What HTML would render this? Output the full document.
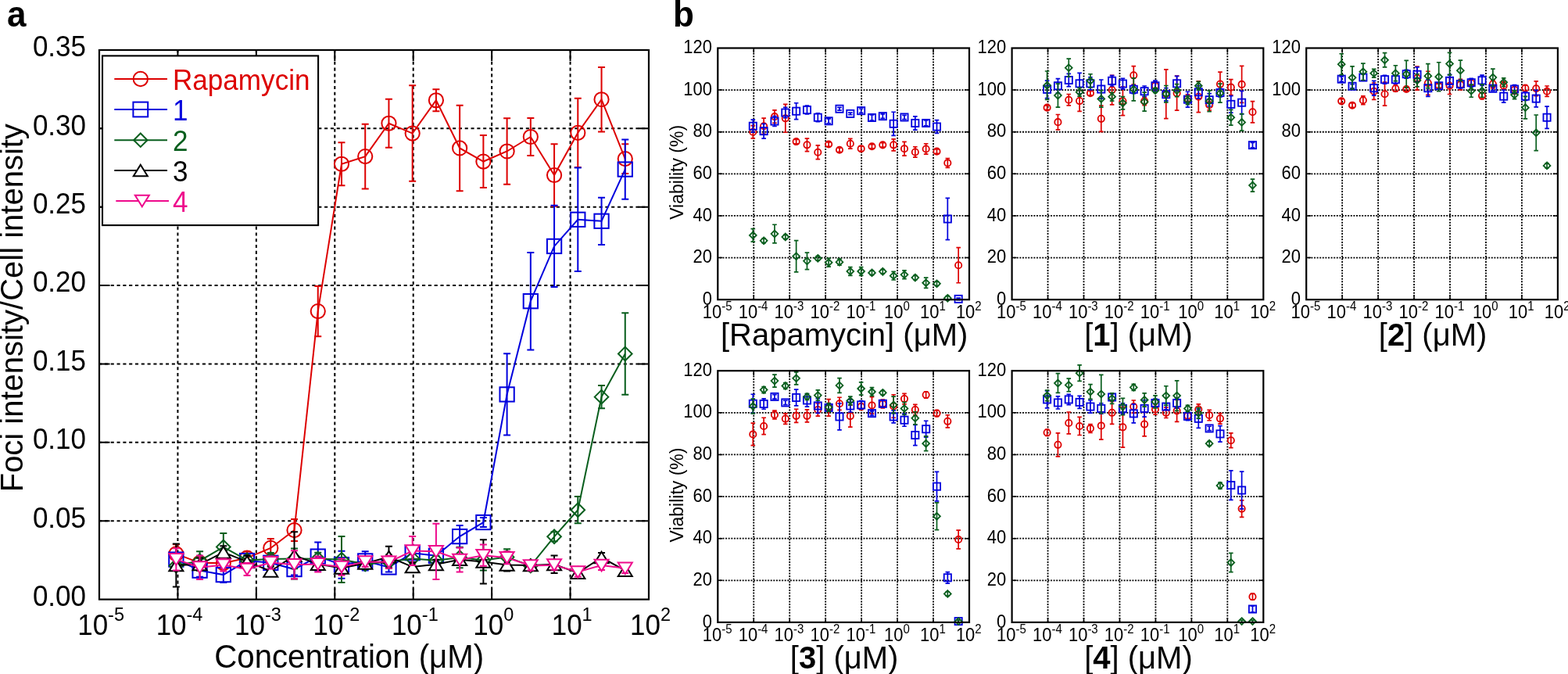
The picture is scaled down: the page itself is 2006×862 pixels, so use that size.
<!DOCTYPE html>
<html><head><meta charset="utf-8"><title>Figure</title>
<style>
html,body{margin:0;padding:0;background:#fff;}
body{width:2006px;height:862px;overflow:hidden;}
svg{display:block;}
text{font-family:'Liberation Sans', Arial, Helvetica, sans-serif;}
</style></head>
<body>
<svg width="2006" height="862" viewBox="0 0 2006 862">
<rect width="2006" height="862" fill="#fff"/>
<path d="M227.43 64V766.6M327.86 64V766.6M428.29 64V766.6M528.71 64V766.6M629.14 64V766.6M729.57 64V766.6M127 666.23H830M127 565.86H830M127 465.49H830M127 365.11H830M127 264.74H830M127 164.37H830" stroke="#000" stroke-width="2" stroke-dasharray="4.1 3.71" stroke-dashoffset="0.9" fill="none"/>
<path d="M227.43 766.6v-14M227.43 64v14M327.86 766.6v-14M327.86 64v14M428.29 766.6v-14M428.29 64v14M528.71 766.6v-14M528.71 64v14M629.14 766.6v-14M629.14 64v14M729.57 766.6v-14M729.57 64v14M127 666.23h13.5M830 666.23h-13.5M127 565.86h13.5M830 565.86h-13.5M127 465.49h13.5M830 465.49h-13.5M127 365.11h13.5M830 365.11h-13.5M127 264.74h13.5M830 264.74h-13.5M127 164.37h13.5M830 164.37h-13.5" stroke="#000" stroke-width="2" fill="none"/>
<path d="M225.36 708.38L255.59 719.83L285.82 720.23L316.06 713.6L346.29 700.96L376.52 678.07L406.75 398.04L436.98 209.74L467.22 200.1L497.45 157.75L527.68 170.59L557.91 128.24L588.14 189.46L618.38 206.53L648.61 193.48L678.84 175.01L709.07 223.99L739.3 169.79L769.54 127.23L799.77 203.11" stroke="#dd0000" stroke-width="2" fill="none"/>
<path d="M225.36 696.34V720.43M220.86 696.34h9M220.86 720.43h9M255.59 711.8V727.86M251.09 711.8h9M251.09 727.86h9M285.82 712.2V728.26M281.32 712.2h9M281.32 728.26h9M316.06 705.57V721.63M311.56 705.57h9M311.56 721.63h9M346.29 688.91V713M341.79 688.91h9M341.79 713h9M376.52 664.02V692.12M372.02 664.02h9M372.02 692.12h9M406.75 365.92V430.15M402.25 365.92h9M402.25 430.15h9M436.98 182.24V237.24M432.48 182.24h9M432.48 237.24h9M467.22 158.75V241.46M462.72 158.75h9M462.72 241.46h9M497.45 126.83V188.66M492.95 126.83h9M492.95 188.66h9M527.68 109.37V231.82M523.18 109.37h9M523.18 231.82h9M557.91 114.19V142.29M553.41 114.19h9M553.41 142.29h9M588.14 134.66V244.27M583.64 134.66h9M583.64 244.27h9M618.38 173V240.05M613.88 173h9M613.88 240.05h9M648.61 151.32V235.64M644.11 151.32h9M644.11 235.64h9M678.84 150.92V199.1M674.34 150.92h9M674.34 199.1h9M709.07 184.24V263.74M704.57 184.24h9M704.57 263.74h9M739.3 125.63V213.95M734.8 125.63h9M734.8 213.95h9M769.54 85.88V168.59M765.04 85.88h9M765.04 168.59h9M799.77 184.24V221.98M795.27 184.24h9M795.27 221.98h9" stroke="#dd0000" stroke-width="2" fill="none"/>
<circle cx="225.36" cy="708.38" r="9.1" fill="none" stroke="#dd0000" stroke-width="2"/>
<circle cx="255.59" cy="719.83" r="9.1" fill="none" stroke="#dd0000" stroke-width="2"/>
<circle cx="285.82" cy="720.23" r="9.1" fill="none" stroke="#dd0000" stroke-width="2"/>
<circle cx="316.06" cy="713.6" r="9.1" fill="none" stroke="#dd0000" stroke-width="2"/>
<circle cx="346.29" cy="700.96" r="9.1" fill="none" stroke="#dd0000" stroke-width="2"/>
<circle cx="376.52" cy="678.07" r="9.1" fill="none" stroke="#dd0000" stroke-width="2"/>
<circle cx="406.75" cy="398.04" r="9.1" fill="none" stroke="#dd0000" stroke-width="2"/>
<circle cx="436.98" cy="209.74" r="9.1" fill="none" stroke="#dd0000" stroke-width="2"/>
<circle cx="467.22" cy="200.1" r="9.1" fill="none" stroke="#dd0000" stroke-width="2"/>
<circle cx="497.45" cy="157.75" r="9.1" fill="none" stroke="#dd0000" stroke-width="2"/>
<circle cx="527.68" cy="170.59" r="9.1" fill="none" stroke="#dd0000" stroke-width="2"/>
<circle cx="557.91" cy="128.24" r="9.1" fill="none" stroke="#dd0000" stroke-width="2"/>
<circle cx="588.14" cy="189.46" r="9.1" fill="none" stroke="#dd0000" stroke-width="2"/>
<circle cx="618.38" cy="206.53" r="9.1" fill="none" stroke="#dd0000" stroke-width="2"/>
<circle cx="648.61" cy="193.48" r="9.1" fill="none" stroke="#dd0000" stroke-width="2"/>
<circle cx="678.84" cy="175.01" r="9.1" fill="none" stroke="#dd0000" stroke-width="2"/>
<circle cx="709.07" cy="223.99" r="9.1" fill="none" stroke="#dd0000" stroke-width="2"/>
<circle cx="739.3" cy="169.79" r="9.1" fill="none" stroke="#dd0000" stroke-width="2"/>
<circle cx="769.54" cy="127.23" r="9.1" fill="none" stroke="#dd0000" stroke-width="2"/>
<circle cx="799.77" cy="203.11" r="9.1" fill="none" stroke="#dd0000" stroke-width="2"/>
<path d="M225.36 715.61L255.59 729.66L285.82 735.08L316.06 717.02L346.29 719.83L376.52 728.06L406.75 711.6L436.98 722.24L467.22 717.42L497.45 725.45L527.68 707.18L557.91 710.79L588.14 686.1L618.38 668.04L648.61 504.43L678.84 385.19L709.07 314.93L739.3 280.8L769.54 282.81L799.77 216.56" stroke="#0000dd" stroke-width="2" fill="none"/>
<path d="M225.36 707.58V723.64M220.86 707.58h9M220.86 723.64h9M255.59 721.63V737.69M251.09 721.63h9M251.09 737.69h9M285.82 725.05V745.12M281.32 725.05h9M281.32 745.12h9M316.06 710.99V723.04M311.56 710.99h9M311.56 723.04h9M346.29 711.8V727.86M341.79 711.8h9M341.79 727.86h9M376.52 720.63V735.48M372.02 720.63h9M372.02 735.48h9M406.75 693.53V729.66M402.25 693.53h9M402.25 729.66h9M436.98 704.77V739.7M432.48 704.77h9M432.48 739.7h9M467.22 705.37V729.46M462.72 705.37h9M462.72 729.46h9M497.45 719.43V731.47M492.95 719.43h9M492.95 731.47h9M527.68 699.15V715.21M523.18 699.15h9M523.18 715.21h9M557.91 702.76V718.82M553.41 702.76h9M553.41 718.82h9M588.14 672.05V700.15M583.64 672.05h9M583.64 700.15h9M618.38 662.01V674.06M613.88 662.01h9M613.88 674.06h9M648.61 452.24V556.62M644.11 452.24h9M644.11 556.62h9M678.84 322.96V447.42M674.34 322.96h9M674.34 447.42h9M709.07 262.74V367.12M704.57 262.74h9M704.57 367.12h9M739.3 214.56V347.05M734.8 214.56h9M734.8 347.05h9M769.54 252.7V312.92M765.04 252.7h9M765.04 312.92h9M799.77 178.42V254.71M795.27 178.42h9M795.27 254.71h9" stroke="#0000dd" stroke-width="2" fill="none"/>
<rect x="216.21" y="706.46" width="18.3" height="18.3" fill="none" stroke="#0000dd" stroke-width="2"/>
<rect x="246.44" y="720.51" width="18.3" height="18.3" fill="none" stroke="#0000dd" stroke-width="2"/>
<rect x="276.67" y="725.93" width="18.3" height="18.3" fill="none" stroke="#0000dd" stroke-width="2"/>
<rect x="306.91" y="707.87" width="18.3" height="18.3" fill="none" stroke="#0000dd" stroke-width="2"/>
<rect x="337.14" y="710.68" width="18.3" height="18.3" fill="none" stroke="#0000dd" stroke-width="2"/>
<rect x="367.37" y="718.91" width="18.3" height="18.3" fill="none" stroke="#0000dd" stroke-width="2"/>
<rect x="397.6" y="702.45" width="18.3" height="18.3" fill="none" stroke="#0000dd" stroke-width="2"/>
<rect x="427.83" y="713.09" width="18.3" height="18.3" fill="none" stroke="#0000dd" stroke-width="2"/>
<rect x="458.07" y="708.27" width="18.3" height="18.3" fill="none" stroke="#0000dd" stroke-width="2"/>
<rect x="488.3" y="716.3" width="18.3" height="18.3" fill="none" stroke="#0000dd" stroke-width="2"/>
<rect x="518.53" y="698.03" width="18.3" height="18.3" fill="none" stroke="#0000dd" stroke-width="2"/>
<rect x="548.76" y="701.64" width="18.3" height="18.3" fill="none" stroke="#0000dd" stroke-width="2"/>
<rect x="578.99" y="676.95" width="18.3" height="18.3" fill="none" stroke="#0000dd" stroke-width="2"/>
<rect x="609.23" y="658.89" width="18.3" height="18.3" fill="none" stroke="#0000dd" stroke-width="2"/>
<rect x="639.46" y="495.28" width="18.3" height="18.3" fill="none" stroke="#0000dd" stroke-width="2"/>
<rect x="669.69" y="376.04" width="18.3" height="18.3" fill="none" stroke="#0000dd" stroke-width="2"/>
<rect x="699.92" y="305.78" width="18.3" height="18.3" fill="none" stroke="#0000dd" stroke-width="2"/>
<rect x="730.15" y="271.65" width="18.3" height="18.3" fill="none" stroke="#0000dd" stroke-width="2"/>
<rect x="760.39" y="273.66" width="18.3" height="18.3" fill="none" stroke="#0000dd" stroke-width="2"/>
<rect x="790.62" y="207.41" width="18.3" height="18.3" fill="none" stroke="#0000dd" stroke-width="2"/>
<path d="M225.36 723.44L255.59 717.22L285.82 699.55L316.06 716.41L346.29 715.01L376.52 714.41L406.75 714.81L436.98 715.61L467.22 721.43L497.45 718.22L527.68 714.41L557.91 716.82L588.14 713L618.38 716.41L648.61 712.4L678.84 723.64L709.07 686.3L739.3 652.18L769.54 507.64L799.77 452.44" stroke="#085e1d" stroke-width="2" fill="none"/>
<path d="M225.36 717.42V729.46M220.86 717.42h9M220.86 729.46h9M255.59 705.17V729.26M251.09 705.17h9M251.09 729.26h9M285.82 682.09V717.02M281.32 682.09h9M281.32 717.02h9M316.06 710.39V722.44M311.56 710.39h9M311.56 722.44h9M346.29 706.98V723.04M341.79 706.98h9M341.79 723.04h9M376.52 701.56V727.25M372.02 701.56h9M372.02 727.25h9M406.75 706.78V722.84M402.25 706.78h9M402.25 722.84h9M436.98 686.1V745.12M432.48 686.1h9M432.48 745.12h9M467.22 715.41V727.46M462.72 715.41h9M462.72 727.46h9M497.45 709.39V727.05M492.95 709.39h9M492.95 727.05h9M527.68 708.38V720.43M523.18 708.38h9M523.18 720.43h9M557.91 710.79V722.84M553.41 710.79h9M553.41 722.84h9M588.14 699.75V726.25M583.64 699.75h9M583.64 726.25h9M618.38 703.37V729.46M613.88 703.37h9M613.88 729.46h9M648.61 702.36V722.44M644.11 702.36h9M644.11 722.44h9M678.84 717.62V729.66M674.34 717.62h9M674.34 729.66h9M709.07 680.28V692.33M704.57 680.28h9M704.57 692.33h9M739.3 635.11V669.24M734.8 635.11h9M734.8 669.24h9M769.54 492.99V522.3M765.04 492.99h9M765.04 522.3h9M799.77 400.24V504.63M795.27 400.24h9M795.27 504.63h9" stroke="#085e1d" stroke-width="2" fill="none"/>
<path d="M225.36 714.64L234.16 723.44L225.36 732.24L216.56 723.44Z" fill="none" stroke="#085e1d" stroke-width="2" stroke-linejoin="miter"/>
<path d="M255.59 708.42L264.39 717.22L255.59 726.02L246.79 717.22Z" fill="none" stroke="#085e1d" stroke-width="2" stroke-linejoin="miter"/>
<path d="M285.82 690.75L294.62 699.55L285.82 708.35L277.02 699.55Z" fill="none" stroke="#085e1d" stroke-width="2" stroke-linejoin="miter"/>
<path d="M316.06 707.61L324.86 716.41L316.06 725.21L307.26 716.41Z" fill="none" stroke="#085e1d" stroke-width="2" stroke-linejoin="miter"/>
<path d="M346.29 706.21L355.09 715.01L346.29 723.81L337.49 715.01Z" fill="none" stroke="#085e1d" stroke-width="2" stroke-linejoin="miter"/>
<path d="M376.52 705.61L385.32 714.41L376.52 723.21L367.72 714.41Z" fill="none" stroke="#085e1d" stroke-width="2" stroke-linejoin="miter"/>
<path d="M406.75 706.01L415.55 714.81L406.75 723.61L397.95 714.81Z" fill="none" stroke="#085e1d" stroke-width="2" stroke-linejoin="miter"/>
<path d="M436.98 706.81L445.78 715.61L436.98 724.41L428.18 715.61Z" fill="none" stroke="#085e1d" stroke-width="2" stroke-linejoin="miter"/>
<path d="M467.22 712.63L476.02 721.43L467.22 730.23L458.42 721.43Z" fill="none" stroke="#085e1d" stroke-width="2" stroke-linejoin="miter"/>
<path d="M497.45 709.42L506.25 718.22L497.45 727.02L488.65 718.22Z" fill="none" stroke="#085e1d" stroke-width="2" stroke-linejoin="miter"/>
<path d="M527.68 705.61L536.48 714.41L527.68 723.21L518.88 714.41Z" fill="none" stroke="#085e1d" stroke-width="2" stroke-linejoin="miter"/>
<path d="M557.91 708.02L566.71 716.82L557.91 725.62L549.11 716.82Z" fill="none" stroke="#085e1d" stroke-width="2" stroke-linejoin="miter"/>
<path d="M588.14 704.2L596.94 713L588.14 721.8L579.34 713Z" fill="none" stroke="#085e1d" stroke-width="2" stroke-linejoin="miter"/>
<path d="M618.38 707.61L627.18 716.41L618.38 725.21L609.58 716.41Z" fill="none" stroke="#085e1d" stroke-width="2" stroke-linejoin="miter"/>
<path d="M648.61 703.6L657.41 712.4L648.61 721.2L639.81 712.4Z" fill="none" stroke="#085e1d" stroke-width="2" stroke-linejoin="miter"/>
<path d="M678.84 714.84L687.64 723.64L678.84 732.44L670.04 723.64Z" fill="none" stroke="#085e1d" stroke-width="2" stroke-linejoin="miter"/>
<path d="M709.07 677.5L717.87 686.3L709.07 695.1L700.27 686.3Z" fill="none" stroke="#085e1d" stroke-width="2" stroke-linejoin="miter"/>
<path d="M739.3 643.38L748.1 652.18L739.3 660.98L730.5 652.18Z" fill="none" stroke="#085e1d" stroke-width="2" stroke-linejoin="miter"/>
<path d="M769.54 498.84L778.34 507.64L769.54 516.44L760.74 507.64Z" fill="none" stroke="#085e1d" stroke-width="2" stroke-linejoin="miter"/>
<path d="M799.77 443.64L808.57 452.44L799.77 461.24L790.97 452.44Z" fill="none" stroke="#085e1d" stroke-width="2" stroke-linejoin="miter"/>
<path d="M225.36 723.04L255.59 721.83L285.82 706.38L316.06 718.42L346.29 730.47L376.52 710.39L406.75 721.63L436.98 726.45L467.22 720.43L497.45 712.2L527.68 725.05L557.91 721.83L588.14 715.81L618.38 718.42L648.61 722.44L678.84 723.04L709.07 721.83L739.3 732.67L769.54 713L799.77 729.66" stroke="#000000" stroke-width="2" fill="none"/>
<path d="M225.36 695.54V750.54M220.86 695.54h9M220.86 750.54h9M255.59 713.8V729.86M251.09 713.8h9M251.09 729.86h9M285.82 698.35V714.41M281.32 698.35h9M281.32 714.41h9M316.06 710.39V726.45M311.56 710.39h9M311.56 726.45h9M346.29 724.44V736.49M341.79 724.44h9M341.79 736.49h9M376.52 680.28V740.5M372.02 680.28h9M372.02 740.5h9M406.75 715.61V727.66M402.25 715.61h9M402.25 727.66h9M436.98 718.42V734.48M432.48 718.42h9M432.48 734.48h9M467.22 714.41V726.45M462.72 714.41h9M462.72 726.45h9M497.45 698.75V725.65M492.95 698.75h9M492.95 725.65h9M527.68 719.02V731.07M523.18 719.02h9M523.18 731.07h9M557.91 715.81V727.86M553.41 715.81h9M553.41 727.86h9M588.14 709.79V721.83M583.64 709.79h9M583.64 721.83h9M618.38 690.32V746.53M613.88 690.32h9M613.88 746.53h9M648.61 714.41V730.47M644.11 714.41h9M644.11 730.47h9M678.84 717.02V729.06M674.34 717.02h9M674.34 729.06h9M709.07 710.59V733.08M704.57 710.59h9M704.57 733.08h9M739.3 726.65V738.7M734.8 726.65h9M734.8 738.7h9M769.54 706.98V719.02M765.04 706.98h9M765.04 719.02h9M799.77 723.64V735.69M795.27 723.64h9M795.27 735.69h9" stroke="#000000" stroke-width="2" fill="none"/>
<path d="M225.36 715.73L234.39 730.35L216.33 730.35Z" fill="white" stroke="#000000" stroke-width="2" stroke-linejoin="miter"/>
<path d="M255.59 714.52L264.62 729.14L246.56 729.14Z" fill="white" stroke="#000000" stroke-width="2" stroke-linejoin="miter"/>
<path d="M285.82 699.07L294.85 713.69L276.79 713.69Z" fill="white" stroke="#000000" stroke-width="2" stroke-linejoin="miter"/>
<path d="M316.06 711.11L325.09 725.73L307.03 725.73Z" fill="white" stroke="#000000" stroke-width="2" stroke-linejoin="miter"/>
<path d="M346.29 723.16L355.32 737.78L337.26 737.78Z" fill="white" stroke="#000000" stroke-width="2" stroke-linejoin="miter"/>
<path d="M376.52 703.08L385.55 717.7L367.49 717.7Z" fill="white" stroke="#000000" stroke-width="2" stroke-linejoin="miter"/>
<path d="M406.75 714.32L415.78 728.94L397.72 728.94Z" fill="white" stroke="#000000" stroke-width="2" stroke-linejoin="miter"/>
<path d="M436.98 719.14L446.01 733.76L427.95 733.76Z" fill="white" stroke="#000000" stroke-width="2" stroke-linejoin="miter"/>
<path d="M467.22 713.12L476.25 727.74L458.19 727.74Z" fill="white" stroke="#000000" stroke-width="2" stroke-linejoin="miter"/>
<path d="M497.45 704.89L506.48 719.51L488.42 719.51Z" fill="white" stroke="#000000" stroke-width="2" stroke-linejoin="miter"/>
<path d="M527.68 717.74L536.71 732.36L518.65 732.36Z" fill="white" stroke="#000000" stroke-width="2" stroke-linejoin="miter"/>
<path d="M557.91 714.52L566.94 729.14L548.88 729.14Z" fill="white" stroke="#000000" stroke-width="2" stroke-linejoin="miter"/>
<path d="M588.14 708.5L597.17 723.12L579.11 723.12Z" fill="white" stroke="#000000" stroke-width="2" stroke-linejoin="miter"/>
<path d="M618.38 711.11L627.41 725.73L609.35 725.73Z" fill="white" stroke="#000000" stroke-width="2" stroke-linejoin="miter"/>
<path d="M648.61 715.13L657.64 729.75L639.58 729.75Z" fill="white" stroke="#000000" stroke-width="2" stroke-linejoin="miter"/>
<path d="M678.84 715.73L687.87 730.35L669.81 730.35Z" fill="white" stroke="#000000" stroke-width="2" stroke-linejoin="miter"/>
<path d="M709.07 714.52L718.1 729.14L700.04 729.14Z" fill="white" stroke="#000000" stroke-width="2" stroke-linejoin="miter"/>
<path d="M739.3 725.36L748.33 739.98L730.27 739.98Z" fill="white" stroke="#000000" stroke-width="2" stroke-linejoin="miter"/>
<path d="M769.54 705.69L778.57 720.31L760.51 720.31Z" fill="white" stroke="#000000" stroke-width="2" stroke-linejoin="miter"/>
<path d="M799.77 722.35L808.8 736.97L790.74 736.97Z" fill="white" stroke="#000000" stroke-width="2" stroke-linejoin="miter"/>
<path d="M225.36 715.41L255.59 725.65L285.82 722.44L316.06 728.06L346.29 719.43L376.52 722.24L406.75 721.43L436.98 725.05L467.22 718.62L497.45 718.82L527.68 704.57L557.91 705.37L588.14 716.01L618.38 710.19L648.61 713.2L678.84 723.44L709.07 722.64L739.3 731.47L769.54 723.04L799.77 726.85" stroke="#ee0a8c" stroke-width="2" fill="none"/>
<path d="M225.36 701.36V729.46M220.86 701.36h9M220.86 729.46h9M255.59 710.39V740.9M251.09 710.39h9M251.09 740.9h9M285.82 714.41V730.47M281.32 714.41h9M281.32 730.47h9M316.06 720.03V736.09M311.56 720.03h9M311.56 736.09h9M346.29 711.4V727.46M341.79 711.4h9M341.79 727.46h9M376.52 704.17V740.3M372.02 704.17h9M372.02 740.3h9M406.75 711.4V731.47M402.25 711.4h9M402.25 731.47h9M436.98 714.41V735.69M432.48 714.41h9M432.48 735.69h9M467.22 712.6V724.64M462.72 712.6h9M462.72 724.64h9M497.45 710.79V726.85M492.95 710.79h9M492.95 726.85h9M527.68 686.1V723.04M523.18 686.1h9M523.18 723.04h9M557.91 669.64V741.11M553.41 669.64h9M553.41 741.11h9M588.14 700.56V731.47M583.64 700.56h9M583.64 731.47h9M618.38 696.54V723.84M613.88 696.54h9M613.88 723.84h9M648.61 705.17V721.23M644.11 705.17h9M644.11 721.23h9M678.84 717.42V729.46M674.34 717.42h9M674.34 729.46h9M709.07 716.62V728.66M704.57 716.62h9M704.57 728.66h9M739.3 725.45V737.49M734.8 725.45h9M734.8 737.49h9M769.54 717.02V729.06M765.04 717.02h9M765.04 729.06h9M799.77 720.83V732.88M795.27 720.83h9M795.27 732.88h9" stroke="#ee0a8c" stroke-width="2" fill="none"/>
<path d="M225.36 722.72L234.39 708.1L216.33 708.1Z" fill="white" stroke="#ee0a8c" stroke-width="2" stroke-linejoin="miter"/>
<path d="M255.59 732.96L264.62 718.34L246.56 718.34Z" fill="white" stroke="#ee0a8c" stroke-width="2" stroke-linejoin="miter"/>
<path d="M285.82 729.75L294.85 715.13L276.79 715.13Z" fill="white" stroke="#ee0a8c" stroke-width="2" stroke-linejoin="miter"/>
<path d="M316.06 735.37L325.09 720.75L307.03 720.75Z" fill="white" stroke="#ee0a8c" stroke-width="2" stroke-linejoin="miter"/>
<path d="M346.29 726.74L355.32 712.12L337.26 712.12Z" fill="white" stroke="#ee0a8c" stroke-width="2" stroke-linejoin="miter"/>
<path d="M376.52 729.55L385.55 714.93L367.49 714.93Z" fill="white" stroke="#ee0a8c" stroke-width="2" stroke-linejoin="miter"/>
<path d="M406.75 728.74L415.78 714.12L397.72 714.12Z" fill="white" stroke="#ee0a8c" stroke-width="2" stroke-linejoin="miter"/>
<path d="M436.98 732.36L446.01 717.74L427.95 717.74Z" fill="white" stroke="#ee0a8c" stroke-width="2" stroke-linejoin="miter"/>
<path d="M467.22 725.93L476.25 711.31L458.19 711.31Z" fill="white" stroke="#ee0a8c" stroke-width="2" stroke-linejoin="miter"/>
<path d="M497.45 726.13L506.48 711.51L488.42 711.51Z" fill="white" stroke="#ee0a8c" stroke-width="2" stroke-linejoin="miter"/>
<path d="M527.68 711.88L536.71 697.26L518.65 697.26Z" fill="white" stroke="#ee0a8c" stroke-width="2" stroke-linejoin="miter"/>
<path d="M557.91 712.68L566.94 698.06L548.88 698.06Z" fill="white" stroke="#ee0a8c" stroke-width="2" stroke-linejoin="miter"/>
<path d="M588.14 723.32L597.17 708.7L579.11 708.7Z" fill="white" stroke="#ee0a8c" stroke-width="2" stroke-linejoin="miter"/>
<path d="M618.38 717.5L627.41 702.88L609.35 702.88Z" fill="white" stroke="#ee0a8c" stroke-width="2" stroke-linejoin="miter"/>
<path d="M648.61 720.51L657.64 705.89L639.58 705.89Z" fill="white" stroke="#ee0a8c" stroke-width="2" stroke-linejoin="miter"/>
<path d="M678.84 730.75L687.87 716.13L669.81 716.13Z" fill="white" stroke="#ee0a8c" stroke-width="2" stroke-linejoin="miter"/>
<path d="M709.07 729.95L718.1 715.33L700.04 715.33Z" fill="white" stroke="#ee0a8c" stroke-width="2" stroke-linejoin="miter"/>
<path d="M739.3 738.78L748.33 724.16L730.27 724.16Z" fill="white" stroke="#ee0a8c" stroke-width="2" stroke-linejoin="miter"/>
<path d="M769.54 730.35L778.57 715.73L760.51 715.73Z" fill="white" stroke="#ee0a8c" stroke-width="2" stroke-linejoin="miter"/>
<path d="M799.77 734.16L808.8 719.54L790.74 719.54Z" fill="white" stroke="#ee0a8c" stroke-width="2" stroke-linejoin="miter"/>
<rect x="127.0" y="64.0" width="703" height="702.6" fill="none" stroke="#000" stroke-width="2.2"/>
<rect x="131" y="71.4" width="276.1" height="216.7" fill="#fff" stroke="#000" stroke-width="2.1"/>
<path d="M146.3 101.0H214" stroke="#dd0000" stroke-width="2"/>
<circle cx="179.8" cy="101" r="9.2" fill="none" stroke="#dd0000" stroke-width="2"/>
<text transform="translate(221 114.7) scale(1 1.05)" font-size="35.1" fill="#dd0000">Rapamycin</text>
<path d="M146.3 140.0H214" stroke="#0000dd" stroke-width="2"/>
<rect x="170.4" y="130.6" width="18.8" height="18.8" fill="none" stroke="#0000dd" stroke-width="2"/>
<text transform="translate(221 153.7) scale(1 1.05)" font-size="35.1" fill="#0000dd">1</text>
<path d="M146.3 179.2H214" stroke="#085e1d" stroke-width="2"/>
<path d="M179.8 170.5L188.5 179.2L179.8 187.9L171.1 179.2Z" fill="none" stroke="#085e1d" stroke-width="2" stroke-linejoin="miter"/>
<text transform="translate(221 192.9) scale(1 1.05)" font-size="35.1" fill="#085e1d">2</text>
<path d="M146.3 218.0H214" stroke="#000000" stroke-width="2"/>
<path d="M179.8 210.69L188.83 225.31L170.77 225.31Z" fill="white" stroke="#000000" stroke-width="2" stroke-linejoin="miter"/>
<text transform="translate(221 231.7) scale(1 1.05)" font-size="35.1" fill="#000000">3</text>
<path d="M148.3 257.0H216" stroke="#ee0a8c" stroke-width="2"/>
<path d="M181.8 264.31L190.83 249.69L172.77 249.69Z" fill="white" stroke="#ee0a8c" stroke-width="2" stroke-linejoin="miter"/>
<text transform="translate(221 270.7) scale(1 1.05)" font-size="35.1" fill="#ee0a8c">4</text>
<text transform="translate(110 774.9) scale(1 1.05)" font-size="35" text-anchor="end">0.00</text>
<text transform="translate(110 674.53) scale(1 1.05)" font-size="35" text-anchor="end">0.05</text>
<text transform="translate(110 574.16) scale(1 1.05)" font-size="35" text-anchor="end">0.10</text>
<text transform="translate(110 473.79) scale(1 1.05)" font-size="35" text-anchor="end">0.15</text>
<text transform="translate(110 373.41) scale(1 1.05)" font-size="35" text-anchor="end">0.20</text>
<text transform="translate(110 273.04) scale(1 1.05)" font-size="35" text-anchor="end">0.25</text>
<text transform="translate(110 172.67) scale(1 1.05)" font-size="35" text-anchor="end">0.30</text>
<text transform="translate(110 72.3) scale(1 1.05)" font-size="35" text-anchor="end">0.35</text>
<text transform="translate(129.1 812.1) scale(1 1.05)" font-size="35" text-anchor="middle">10<tspan font-size="23.5" dy="-16.8">-5</tspan></text>
<text transform="translate(229.53 812.1) scale(1 1.05)" font-size="35" text-anchor="middle">10<tspan font-size="23.5" dy="-16.8">-4</tspan></text>
<text transform="translate(329.96 812.1) scale(1 1.05)" font-size="35" text-anchor="middle">10<tspan font-size="23.5" dy="-16.8">-3</tspan></text>
<text transform="translate(430.39 812.1) scale(1 1.05)" font-size="35" text-anchor="middle">10<tspan font-size="23.5" dy="-16.8">-2</tspan></text>
<text transform="translate(530.81 812.1) scale(1 1.05)" font-size="35" text-anchor="middle">10<tspan font-size="23.5" dy="-16.8">-1</tspan></text>
<text transform="translate(631.24 812.1) scale(1 1.05)" font-size="35" text-anchor="middle">10<tspan font-size="23.5" dy="-16.8">0</tspan></text>
<text transform="translate(731.67 812.1) scale(1 1.05)" font-size="35" text-anchor="middle">10<tspan font-size="23.5" dy="-16.8">1</tspan></text>
<text transform="translate(832.1 812.1) scale(1 1.05)" font-size="35" text-anchor="middle">10<tspan font-size="23.5" dy="-16.8">2</tspan></text>
<text transform="translate(274.3 853.7) scale(1 1.05)" font-size="40.2">Concentration (μM)</text>
<text transform="translate(29.4 629.3) rotate(-90) scale(1 1.03)" font-size="40">Foci intensity/Cell intensity</text>
<text transform="translate(9 34.3) scale(1 1.06)" font-size="44" font-weight="bold">a</text>
<path d="M964.26 61.5V383.2M1010.21 61.5V383.2M1056.17 61.5V383.2M1102.13 61.5V383.2M1148.09 61.5V383.2M1194.04 61.5V383.2M918.3 329.58H1240M918.3 275.97H1240M918.3 222.35H1240M918.3 168.73H1240M918.3 115.12H1240" stroke="#000" stroke-width="1.8" stroke-dasharray="2 1.6" stroke-dashoffset="1" fill="none"/>
<path d="M964.26 383.2v-6M964.26 61.5v6M1010.21 383.2v-6M1010.21 61.5v6M1056.17 383.2v-6M1056.17 61.5v6M1102.13 383.2v-6M1102.13 61.5v6M1148.09 383.2v-6M1148.09 61.5v6M1194.04 383.2v-6M1194.04 61.5v6M918.3 329.58h6M1240 329.58h-6M918.3 275.97h6M1240 275.97h-6M918.3 222.35h6M1240 222.35h-6M918.3 168.73h6M1240 168.73h-6M918.3 115.12h6M1240 115.12h-6" stroke="#000" stroke-width="1.5" fill="none"/>
<path d="M963.31 160.69V176.78M960.51 160.69h5.6M960.51 176.78h5.6M977.14 151.04V171.41M974.34 151.04h5.6M974.34 171.41h5.6M990.98 140.85V157.47M988.18 140.85h5.6M988.18 157.47h5.6M1004.81 133.35V169.27M1002.01 133.35h5.6M1002.01 169.27h5.6M1018.65 178.38V183.75M1015.85 178.38h5.6M1015.85 183.75h5.6M1032.48 177.04V193.67M1029.68 177.04h5.6M1029.68 193.67h5.6M1046.32 185.89V203.58M1043.52 185.89h5.6M1043.52 203.58h5.6M1060.15 181.87V187.23M1057.35 181.87h5.6M1057.35 187.23h5.6M1073.99 189.11V194.47M1071.19 189.11h5.6M1071.19 194.47h5.6M1087.82 177.31V190.18M1085.02 177.31h5.6M1085.02 190.18h5.6M1101.66 186.96V193.4M1098.86 186.96h5.6M1098.86 193.4h5.6M1115.49 184.55V189.91M1112.69 184.55h5.6M1112.69 189.91h5.6M1129.32 182.67V188.04M1126.52 182.67h5.6M1126.52 188.04h5.6M1143.16 177.85V192.86M1140.36 177.85h5.6M1140.36 192.86h5.6M1156.99 181.33V199.03M1154.19 181.33h5.6M1154.19 199.03h5.6M1170.83 187.77V201.17M1168.03 187.77h5.6M1168.03 201.17h5.6M1184.66 183.75V197.15M1181.86 183.75h5.6M1181.86 197.15h5.6M1198.5 190.98V196.35M1195.7 190.98h5.6M1195.7 196.35h5.6M1212.33 202.51V214.31M1209.53 202.51h5.6M1209.53 214.31h5.6M1226.17 316.72V361.75M1223.37 316.72h5.6M1223.37 361.75h5.6" stroke="#dd0000" stroke-width="1.7" fill="none"/>
<circle cx="963.31" cy="168.73" r="4.15" fill="none" stroke="#dd0000" stroke-width="1.8"/>
<circle cx="977.14" cy="161.23" r="4.15" fill="none" stroke="#dd0000" stroke-width="1.8"/>
<circle cx="990.98" cy="149.16" r="4.15" fill="none" stroke="#dd0000" stroke-width="1.8"/>
<circle cx="1004.81" cy="151.31" r="4.15" fill="none" stroke="#dd0000" stroke-width="1.8"/>
<circle cx="1018.65" cy="181.07" r="4.15" fill="none" stroke="#dd0000" stroke-width="1.8"/>
<circle cx="1032.48" cy="185.35" r="4.15" fill="none" stroke="#dd0000" stroke-width="1.8"/>
<circle cx="1046.32" cy="194.74" r="4.15" fill="none" stroke="#dd0000" stroke-width="1.8"/>
<circle cx="1060.15" cy="184.55" r="4.15" fill="none" stroke="#dd0000" stroke-width="1.8"/>
<circle cx="1073.99" cy="191.79" r="4.15" fill="none" stroke="#dd0000" stroke-width="1.8"/>
<circle cx="1087.82" cy="183.75" r="4.15" fill="none" stroke="#dd0000" stroke-width="1.8"/>
<circle cx="1101.66" cy="190.18" r="4.15" fill="none" stroke="#dd0000" stroke-width="1.8"/>
<circle cx="1115.49" cy="187.23" r="4.15" fill="none" stroke="#dd0000" stroke-width="1.8"/>
<circle cx="1129.32" cy="185.35" r="4.15" fill="none" stroke="#dd0000" stroke-width="1.8"/>
<circle cx="1143.16" cy="185.35" r="4.15" fill="none" stroke="#dd0000" stroke-width="1.8"/>
<circle cx="1156.99" cy="190.18" r="4.15" fill="none" stroke="#dd0000" stroke-width="1.8"/>
<circle cx="1170.83" cy="194.47" r="4.15" fill="none" stroke="#dd0000" stroke-width="1.8"/>
<circle cx="1184.66" cy="190.45" r="4.15" fill="none" stroke="#dd0000" stroke-width="1.8"/>
<circle cx="1198.5" cy="193.67" r="4.15" fill="none" stroke="#dd0000" stroke-width="1.8"/>
<circle cx="1212.33" cy="208.41" r="4.15" fill="none" stroke="#dd0000" stroke-width="1.8"/>
<circle cx="1226.17" cy="339.23" r="4.15" fill="none" stroke="#dd0000" stroke-width="1.8"/>
<path d="M963.31 153.18V169.27M960.51 153.18h5.6M960.51 169.27h5.6M977.14 158.28V177.04M974.34 158.28h5.6M974.34 177.04h5.6M990.98 148.63V161.5M988.18 148.63h5.6M988.18 161.5h5.6M1004.81 137.37V150.77M1002.01 137.37h5.6M1002.01 150.77h5.6M1018.65 131.74V152.65M1015.85 131.74h5.6M1015.85 152.65h5.6M1032.48 135.22V145.95M1029.68 135.22h5.6M1029.68 145.95h5.6M1046.32 144.87V155.6M1043.52 144.87h5.6M1043.52 155.6h5.6M1060.15 151.84V157.74M1057.35 151.84h5.6M1057.35 157.74h5.6M1073.99 137.37V141.12M1071.19 137.37h5.6M1071.19 141.12h5.6M1087.82 144.07V146.75M1085.02 144.07h5.6M1085.02 146.75h5.6M1101.66 138.98V144.34M1098.86 138.98h5.6M1098.86 144.34h5.6M1115.49 147.02V153.99M1112.69 147.02h5.6M1112.69 153.99h5.6M1129.32 145.95V151.31M1126.52 145.95h5.6M1126.52 151.31h5.6M1143.16 143.27V173.29M1140.36 143.27h5.6M1140.36 173.29h5.6M1156.99 147.29V152.65M1154.19 147.29h5.6M1154.19 152.65h5.6M1170.83 148.9V166.05M1168.03 148.9h5.6M1168.03 166.05h5.6M1184.66 153.99V160.96M1181.86 153.99h5.6M1181.86 160.96h5.6M1198.5 153.72V170.34M1195.7 153.72h5.6M1195.7 170.34h5.6M1212.33 253.45V306.53M1209.53 253.45h5.6M1209.53 306.53h5.6M1226.17 381.06V383.74M1223.37 381.06h5.6M1223.37 383.74h5.6" stroke="#0000dd" stroke-width="1.7" fill="none"/>
<rect x="958.71" y="156.63" width="9.2" height="9.2" fill="none" stroke="#0000dd" stroke-width="1.8"/>
<rect x="972.54" y="163.06" width="9.2" height="9.2" fill="none" stroke="#0000dd" stroke-width="1.8"/>
<rect x="986.38" y="150.46" width="9.2" height="9.2" fill="none" stroke="#0000dd" stroke-width="1.8"/>
<rect x="1000.21" y="139.47" width="9.2" height="9.2" fill="none" stroke="#0000dd" stroke-width="1.8"/>
<rect x="1014.05" y="137.59" width="9.2" height="9.2" fill="none" stroke="#0000dd" stroke-width="1.8"/>
<rect x="1027.88" y="135.98" width="9.2" height="9.2" fill="none" stroke="#0000dd" stroke-width="1.8"/>
<rect x="1041.72" y="145.64" width="9.2" height="9.2" fill="none" stroke="#0000dd" stroke-width="1.8"/>
<rect x="1055.55" y="150.19" width="9.2" height="9.2" fill="none" stroke="#0000dd" stroke-width="1.8"/>
<rect x="1069.39" y="134.64" width="9.2" height="9.2" fill="none" stroke="#0000dd" stroke-width="1.8"/>
<rect x="1083.22" y="140.81" width="9.2" height="9.2" fill="none" stroke="#0000dd" stroke-width="1.8"/>
<rect x="1097.06" y="137.06" width="9.2" height="9.2" fill="none" stroke="#0000dd" stroke-width="1.8"/>
<rect x="1110.89" y="145.9" width="9.2" height="9.2" fill="none" stroke="#0000dd" stroke-width="1.8"/>
<rect x="1124.72" y="144.03" width="9.2" height="9.2" fill="none" stroke="#0000dd" stroke-width="1.8"/>
<rect x="1138.56" y="153.68" width="9.2" height="9.2" fill="none" stroke="#0000dd" stroke-width="1.8"/>
<rect x="1152.39" y="145.37" width="9.2" height="9.2" fill="none" stroke="#0000dd" stroke-width="1.8"/>
<rect x="1166.23" y="152.87" width="9.2" height="9.2" fill="none" stroke="#0000dd" stroke-width="1.8"/>
<rect x="1180.06" y="152.87" width="9.2" height="9.2" fill="none" stroke="#0000dd" stroke-width="1.8"/>
<rect x="1193.9" y="157.43" width="9.2" height="9.2" fill="none" stroke="#0000dd" stroke-width="1.8"/>
<rect x="1207.73" y="275.39" width="9.2" height="9.2" fill="none" stroke="#0000dd" stroke-width="1.8"/>
<rect x="1221.57" y="377.8" width="9.2" height="9.2" fill="none" stroke="#0000dd" stroke-width="1.8"/>
<path d="M963.31 292.59V309.21M960.51 292.59h5.6M960.51 309.21h5.6M977.14 305.19V310.55M974.34 305.19h5.6M974.34 310.55h5.6M990.98 287.23V310.82M988.18 287.23h5.6M988.18 310.82h5.6M1004.81 300.36V305.72M1002.01 300.36h5.6M1002.01 305.72h5.6M1018.65 307.6V347.81M1015.85 307.6h5.6M1015.85 347.81h5.6M1032.48 323.15V344.6M1029.68 323.15h5.6M1029.68 344.6h5.6M1046.32 327.71V333.07M1043.52 327.71h5.6M1043.52 333.07h5.6M1060.15 330.39V341.11M1057.35 330.39h5.6M1057.35 341.11h5.6M1073.99 331.19V339.23M1071.19 331.19h5.6M1071.19 339.23h5.6M1087.82 341.65V352.37M1085.02 341.65h5.6M1085.02 352.37h5.6M1101.66 341.65V352.37M1098.86 341.65h5.6M1098.86 352.37h5.6M1115.49 346.2V351.57M1112.69 346.2h5.6M1112.69 351.57h5.6M1129.32 344.6V349.96M1126.52 344.6h5.6M1126.52 349.96h5.6M1143.16 347.28V358M1140.36 347.28h5.6M1140.36 358h5.6M1156.99 345.94V356.66M1154.19 345.94h5.6M1154.19 356.66h5.6M1170.83 352.37V357.73M1168.03 352.37h5.6M1168.03 357.73h5.6M1184.66 355.05V368.46M1181.86 355.05h5.6M1181.86 368.46h5.6M1198.5 360.14V365.51M1195.7 360.14h5.6M1195.7 365.51h5.6M1212.33 378.64V384M1209.53 378.64h5.6M1209.53 384h5.6" stroke="#085e1d" stroke-width="1.7" fill="none"/>
<path d="M963.31 296.5L967.71 300.9L963.31 305.3L958.91 300.9Z" fill="none" stroke="#085e1d" stroke-width="1.8" stroke-linejoin="miter"/>
<path d="M977.14 303.47L981.54 307.87L977.14 312.27L972.74 307.87Z" fill="none" stroke="#085e1d" stroke-width="1.8" stroke-linejoin="miter"/>
<path d="M990.98 294.62L995.38 299.02L990.98 303.42L986.58 299.02Z" fill="none" stroke="#085e1d" stroke-width="1.8" stroke-linejoin="miter"/>
<path d="M1004.81 298.64L1009.21 303.04L1004.81 307.44L1000.41 303.04Z" fill="none" stroke="#085e1d" stroke-width="1.8" stroke-linejoin="miter"/>
<path d="M1018.65 323.31L1023.05 327.71L1018.65 332.11L1014.25 327.71Z" fill="none" stroke="#085e1d" stroke-width="1.8" stroke-linejoin="miter"/>
<path d="M1032.48 329.47L1036.88 333.87L1032.48 338.27L1028.08 333.87Z" fill="none" stroke="#085e1d" stroke-width="1.8" stroke-linejoin="miter"/>
<path d="M1046.32 325.99L1050.72 330.39L1046.32 334.79L1041.92 330.39Z" fill="none" stroke="#085e1d" stroke-width="1.8" stroke-linejoin="miter"/>
<path d="M1060.15 331.35L1064.55 335.75L1060.15 340.15L1055.75 335.75Z" fill="none" stroke="#085e1d" stroke-width="1.8" stroke-linejoin="miter"/>
<path d="M1073.99 330.81L1078.39 335.21L1073.99 339.61L1069.59 335.21Z" fill="none" stroke="#085e1d" stroke-width="1.8" stroke-linejoin="miter"/>
<path d="M1087.82 342.61L1092.22 347.01L1087.82 351.41L1083.42 347.01Z" fill="none" stroke="#085e1d" stroke-width="1.8" stroke-linejoin="miter"/>
<path d="M1101.66 342.61L1106.06 347.01L1101.66 351.41L1097.26 347.01Z" fill="none" stroke="#085e1d" stroke-width="1.8" stroke-linejoin="miter"/>
<path d="M1115.49 344.49L1119.89 348.89L1115.49 353.29L1111.09 348.89Z" fill="none" stroke="#085e1d" stroke-width="1.8" stroke-linejoin="miter"/>
<path d="M1129.32 342.88L1133.72 347.28L1129.32 351.68L1124.92 347.28Z" fill="none" stroke="#085e1d" stroke-width="1.8" stroke-linejoin="miter"/>
<path d="M1143.16 348.24L1147.56 352.64L1143.16 357.04L1138.76 352.64Z" fill="none" stroke="#085e1d" stroke-width="1.8" stroke-linejoin="miter"/>
<path d="M1156.99 346.9L1161.39 351.3L1156.99 355.7L1152.59 351.3Z" fill="none" stroke="#085e1d" stroke-width="1.8" stroke-linejoin="miter"/>
<path d="M1170.83 350.65L1175.23 355.05L1170.83 359.45L1166.43 355.05Z" fill="none" stroke="#085e1d" stroke-width="1.8" stroke-linejoin="miter"/>
<path d="M1184.66 357.35L1189.06 361.75L1184.66 366.15L1180.26 361.75Z" fill="none" stroke="#085e1d" stroke-width="1.8" stroke-linejoin="miter"/>
<path d="M1198.5 358.43L1202.9 362.83L1198.5 367.23L1194.1 362.83Z" fill="none" stroke="#085e1d" stroke-width="1.8" stroke-linejoin="miter"/>
<path d="M1212.33 376.92L1216.73 381.32L1212.33 385.72L1207.93 381.32Z" fill="none" stroke="#085e1d" stroke-width="1.8" stroke-linejoin="miter"/>
<rect x="918.3" y="61.5" width="321.7" height="321.7" fill="none" stroke="#000" stroke-width="2.2"/>
<text transform="translate(911 389.8) scale(1 1.06)" font-size="22" text-anchor="end">0</text>
<text transform="translate(911 336.18) scale(1 1.06)" font-size="22" text-anchor="end">20</text>
<text transform="translate(911 282.57) scale(1 1.06)" font-size="22" text-anchor="end">40</text>
<text transform="translate(911 228.95) scale(1 1.06)" font-size="22" text-anchor="end">60</text>
<text transform="translate(911 175.33) scale(1 1.06)" font-size="22" text-anchor="end">80</text>
<text transform="translate(911 121.72) scale(1 1.06)" font-size="22" text-anchor="end">100</text>
<text transform="translate(911 68.1) scale(1 1.06)" font-size="22" text-anchor="end">120</text>
<text transform="translate(917.6 407.3) scale(1 1.075)" font-size="22" text-anchor="middle">10<tspan font-size="15" dy="-9.6">-5</tspan></text>
<text transform="translate(963.56 407.3) scale(1 1.075)" font-size="22" text-anchor="middle">10<tspan font-size="15" dy="-9.6">-4</tspan></text>
<text transform="translate(1009.51 407.3) scale(1 1.075)" font-size="22" text-anchor="middle">10<tspan font-size="15" dy="-9.6">-3</tspan></text>
<text transform="translate(1055.47 407.3) scale(1 1.075)" font-size="22" text-anchor="middle">10<tspan font-size="15" dy="-9.6">-2</tspan></text>
<text transform="translate(1101.43 407.3) scale(1 1.075)" font-size="22" text-anchor="middle">10<tspan font-size="15" dy="-9.6">-1</tspan></text>
<text transform="translate(1147.39 407.3) scale(1 1.075)" font-size="22" text-anchor="middle">10<tspan font-size="15" dy="-9.6">0</tspan></text>
<text transform="translate(1193.34 407.3) scale(1 1.075)" font-size="22" text-anchor="middle">10<tspan font-size="15" dy="-9.6">1</tspan></text>
<text transform="translate(1239.3 407.3) scale(1 1.075)" font-size="22" text-anchor="middle">10<tspan font-size="15" dy="-9.6">2</tspan></text>
<text transform="translate(1080.15 441.9) scale(1 1.03)" font-size="40" text-anchor="middle">[Rapamycin] (μM)</text>
<text transform="translate(874.3 220.35) rotate(-90) scale(1 1.03)" font-size="23" text-anchor="middle">Viability (%)</text>
<path d="M1340.56 61.5V383.2M1386.51 61.5V383.2M1432.47 61.5V383.2M1478.43 61.5V383.2M1524.39 61.5V383.2M1570.34 61.5V383.2M1294.6 329.58H1616.3M1294.6 275.97H1616.3M1294.6 222.35H1616.3M1294.6 168.73H1616.3M1294.6 115.12H1616.3" stroke="#000" stroke-width="1.8" stroke-dasharray="2 1.6" stroke-dashoffset="1" fill="none"/>
<path d="M1340.56 383.2v-6M1340.56 61.5v6M1386.51 383.2v-6M1386.51 61.5v6M1432.47 383.2v-6M1432.47 61.5v6M1478.43 383.2v-6M1478.43 61.5v6M1524.39 383.2v-6M1524.39 61.5v6M1570.34 383.2v-6M1570.34 61.5v6M1294.6 329.58h6M1616.3 329.58h-6M1294.6 275.97h6M1616.3 275.97h-6M1294.6 222.35h6M1616.3 222.35h-6M1294.6 168.73h6M1616.3 168.73h-6M1294.6 115.12h6M1616.3 115.12h-6" stroke="#000" stroke-width="1.5" fill="none"/>
<path d="M1339.61 134.95V140.32M1336.81 134.95h5.6M1336.81 140.32h5.6M1353.44 146.48V165.78M1350.64 146.48h5.6M1350.64 165.78h5.6M1367.28 120.48V134.95M1364.48 120.48h5.6M1364.48 134.95h5.6M1381.11 115.65V142.46M1378.31 115.65h5.6M1378.31 142.46h5.6M1394.95 116.46V121.82M1392.15 116.46h5.6M1392.15 121.82h5.6M1408.78 135.22V168.47M1405.98 135.22h5.6M1405.98 168.47h5.6M1422.62 96.35V133.88M1419.82 96.35h5.6M1419.82 133.88h5.6M1436.45 111.1V147.55M1433.65 111.1h5.6M1433.65 147.55h5.6M1450.29 84.56V108.15M1447.49 84.56h5.6M1447.49 108.15h5.6M1464.12 123.96V134.69M1461.32 123.96h5.6M1461.32 134.69h5.6M1477.96 104.39V115.12M1475.16 104.39h5.6M1475.16 115.12h5.6M1491.79 88.84V151.58M1488.99 88.84h5.6M1488.99 151.58h5.6M1505.62 97.16V141.12M1502.82 97.16h5.6M1502.82 141.12h5.6M1519.46 120.75V131.47M1516.66 120.75h5.6M1516.66 131.47h5.6M1533.29 103.86V143.53M1530.49 103.86h5.6M1530.49 143.53h5.6M1547.13 127.45V140.85M1544.33 127.45h5.6M1544.33 140.85h5.6M1560.96 92.06V123.16M1558.16 92.06h5.6M1558.16 123.16h5.6M1574.8 101.71V121.55M1572 101.71h5.6M1572 121.55h5.6M1588.63 84.29V131.47M1585.83 84.29h5.6M1585.83 131.47h5.6M1602.47 129.59V156.94M1599.67 129.59h5.6M1599.67 156.94h5.6" stroke="#dd0000" stroke-width="1.7" fill="none"/>
<circle cx="1339.61" cy="137.64" r="4.15" fill="none" stroke="#dd0000" stroke-width="1.8"/>
<circle cx="1353.44" cy="156.13" r="4.15" fill="none" stroke="#dd0000" stroke-width="1.8"/>
<circle cx="1367.28" cy="127.72" r="4.15" fill="none" stroke="#dd0000" stroke-width="1.8"/>
<circle cx="1381.11" cy="129.06" r="4.15" fill="none" stroke="#dd0000" stroke-width="1.8"/>
<circle cx="1394.95" cy="119.14" r="4.15" fill="none" stroke="#dd0000" stroke-width="1.8"/>
<circle cx="1408.78" cy="151.84" r="4.15" fill="none" stroke="#dd0000" stroke-width="1.8"/>
<circle cx="1422.62" cy="115.12" r="4.15" fill="none" stroke="#dd0000" stroke-width="1.8"/>
<circle cx="1436.45" cy="129.33" r="4.15" fill="none" stroke="#dd0000" stroke-width="1.8"/>
<circle cx="1450.29" cy="96.35" r="4.15" fill="none" stroke="#dd0000" stroke-width="1.8"/>
<circle cx="1464.12" cy="129.33" r="4.15" fill="none" stroke="#dd0000" stroke-width="1.8"/>
<circle cx="1477.96" cy="109.75" r="4.15" fill="none" stroke="#dd0000" stroke-width="1.8"/>
<circle cx="1491.79" cy="120.21" r="4.15" fill="none" stroke="#dd0000" stroke-width="1.8"/>
<circle cx="1505.62" cy="119.14" r="4.15" fill="none" stroke="#dd0000" stroke-width="1.8"/>
<circle cx="1519.46" cy="126.11" r="4.15" fill="none" stroke="#dd0000" stroke-width="1.8"/>
<circle cx="1533.29" cy="123.7" r="4.15" fill="none" stroke="#dd0000" stroke-width="1.8"/>
<circle cx="1547.13" cy="134.15" r="4.15" fill="none" stroke="#dd0000" stroke-width="1.8"/>
<circle cx="1560.96" cy="107.61" r="4.15" fill="none" stroke="#dd0000" stroke-width="1.8"/>
<circle cx="1574.8" cy="111.63" r="4.15" fill="none" stroke="#dd0000" stroke-width="1.8"/>
<circle cx="1588.63" cy="107.88" r="4.15" fill="none" stroke="#dd0000" stroke-width="1.8"/>
<circle cx="1602.47" cy="143.27" r="4.15" fill="none" stroke="#dd0000" stroke-width="1.8"/>
<path d="M1339.61 103.05V125.57M1336.81 103.05h5.6M1336.81 125.57h5.6M1353.44 100.64V118.87M1350.64 100.64h5.6M1350.64 118.87h5.6M1367.28 94.47V110.56M1364.48 94.47h5.6M1364.48 110.56h5.6M1381.11 93.4V120.21M1378.31 93.4h5.6M1378.31 120.21h5.6M1394.95 98.76V114.85M1392.15 98.76h5.6M1392.15 114.85h5.6M1408.78 101.98V126.11M1405.98 101.98h5.6M1405.98 126.11h5.6M1422.62 96.62V110.02M1419.82 96.62h5.6M1419.82 110.02h5.6M1436.45 100.37V113.78M1433.65 100.37h5.6M1433.65 113.78h5.6M1450.29 108.95V119.67M1447.49 108.95h5.6M1447.49 119.67h5.6M1464.12 110.02V123.43M1461.32 110.02h5.6M1461.32 123.43h5.6M1477.96 103.05V116.46M1475.16 103.05h5.6M1475.16 116.46h5.6M1491.79 112.7V128.79M1488.99 112.7h5.6M1488.99 128.79h5.6M1505.62 97.42V116.19M1502.82 97.42h5.6M1502.82 116.19h5.6M1519.46 117.26V137.1M1516.66 117.26h5.6M1516.66 137.1h5.6M1533.29 109.75V125.84M1530.49 109.75h5.6M1530.49 125.84h5.6M1547.13 119.67V135.76M1544.33 119.67h5.6M1544.33 135.76h5.6M1560.96 113.24V123.96M1558.16 113.24h5.6M1558.16 123.96h5.6M1574.8 122.62V144.07M1572 122.62h5.6M1572 144.07h5.6M1588.63 116.46V145.95M1585.83 116.46h5.6M1585.83 145.95h5.6M1602.47 182.41V188.84M1599.67 182.41h5.6M1599.67 188.84h5.6" stroke="#0000dd" stroke-width="1.7" fill="none"/>
<rect x="1335.01" y="109.71" width="9.2" height="9.2" fill="none" stroke="#0000dd" stroke-width="1.8"/>
<rect x="1348.84" y="105.16" width="9.2" height="9.2" fill="none" stroke="#0000dd" stroke-width="1.8"/>
<rect x="1362.68" y="97.92" width="9.2" height="9.2" fill="none" stroke="#0000dd" stroke-width="1.8"/>
<rect x="1376.51" y="102.21" width="9.2" height="9.2" fill="none" stroke="#0000dd" stroke-width="1.8"/>
<rect x="1390.35" y="102.21" width="9.2" height="9.2" fill="none" stroke="#0000dd" stroke-width="1.8"/>
<rect x="1404.18" y="109.44" width="9.2" height="9.2" fill="none" stroke="#0000dd" stroke-width="1.8"/>
<rect x="1418.02" y="98.72" width="9.2" height="9.2" fill="none" stroke="#0000dd" stroke-width="1.8"/>
<rect x="1431.85" y="102.47" width="9.2" height="9.2" fill="none" stroke="#0000dd" stroke-width="1.8"/>
<rect x="1445.69" y="109.71" width="9.2" height="9.2" fill="none" stroke="#0000dd" stroke-width="1.8"/>
<rect x="1459.52" y="112.13" width="9.2" height="9.2" fill="none" stroke="#0000dd" stroke-width="1.8"/>
<rect x="1473.36" y="105.16" width="9.2" height="9.2" fill="none" stroke="#0000dd" stroke-width="1.8"/>
<rect x="1487.19" y="116.15" width="9.2" height="9.2" fill="none" stroke="#0000dd" stroke-width="1.8"/>
<rect x="1501.02" y="102.21" width="9.2" height="9.2" fill="none" stroke="#0000dd" stroke-width="1.8"/>
<rect x="1514.86" y="122.58" width="9.2" height="9.2" fill="none" stroke="#0000dd" stroke-width="1.8"/>
<rect x="1528.69" y="113.2" width="9.2" height="9.2" fill="none" stroke="#0000dd" stroke-width="1.8"/>
<rect x="1542.53" y="123.12" width="9.2" height="9.2" fill="none" stroke="#0000dd" stroke-width="1.8"/>
<rect x="1556.36" y="114" width="9.2" height="9.2" fill="none" stroke="#0000dd" stroke-width="1.8"/>
<rect x="1570.2" y="128.75" width="9.2" height="9.2" fill="none" stroke="#0000dd" stroke-width="1.8"/>
<rect x="1584.03" y="126.6" width="9.2" height="9.2" fill="none" stroke="#0000dd" stroke-width="1.8"/>
<rect x="1597.87" y="181.02" width="9.2" height="9.2" fill="none" stroke="#0000dd" stroke-width="1.8"/>
<path d="M1339.61 90.99V127.45M1336.81 90.99h5.6M1336.81 127.45h5.6M1353.44 107.07V137.1M1350.64 107.07h5.6M1350.64 137.1h5.6M1367.28 75.17V98.23M1364.48 75.17h5.6M1364.48 98.23h5.6M1381.11 112.44V123.16M1378.31 112.44h5.6M1378.31 123.16h5.6M1394.95 94.74V111.9M1392.15 94.74h5.6M1392.15 111.9h5.6M1408.78 115.65V137.1M1405.98 115.65h5.6M1405.98 137.1h5.6M1422.62 118.33V129.06M1419.82 118.33h5.6M1419.82 129.06h5.6M1436.45 123.7V139.78M1433.65 123.7h5.6M1433.65 139.78h5.6M1450.29 99.84V128.79M1447.49 99.84h5.6M1447.49 128.79h5.6M1464.12 118.07V142.19M1461.32 118.07h5.6M1461.32 142.19h5.6M1477.96 112.97V118.33M1475.16 112.97h5.6M1475.16 118.33h5.6M1491.79 109.49V130.93M1488.99 109.49h5.6M1488.99 130.93h5.6M1505.62 107.61V123.7M1502.82 107.61h5.6M1502.82 123.7h5.6M1519.46 122.89V133.61M1516.66 122.89h5.6M1516.66 133.61h5.6M1533.29 104.39V115.12M1530.49 104.39h5.6M1530.49 115.12h5.6M1547.13 115.92V142.73M1544.33 115.92h5.6M1544.33 142.73h5.6M1560.96 107.07V131.2M1558.16 107.07h5.6M1558.16 131.2h5.6M1574.8 140.32V160.15M1572 140.32h5.6M1572 160.15h5.6M1588.63 145.68V167.12M1585.83 145.68h5.6M1585.83 167.12h5.6M1602.47 229.05V245.14M1599.67 229.05h5.6M1599.67 245.14h5.6" stroke="#085e1d" stroke-width="1.7" fill="none"/>
<path d="M1339.61 104.82L1344.01 109.22L1339.61 113.62L1335.21 109.22Z" fill="none" stroke="#085e1d" stroke-width="1.8" stroke-linejoin="miter"/>
<path d="M1353.44 117.69L1357.84 122.09L1353.44 126.49L1349.04 122.09Z" fill="none" stroke="#085e1d" stroke-width="1.8" stroke-linejoin="miter"/>
<path d="M1367.28 82.3L1371.68 86.7L1367.28 91.1L1362.88 86.7Z" fill="none" stroke="#085e1d" stroke-width="1.8" stroke-linejoin="miter"/>
<path d="M1381.11 113.4L1385.51 117.8L1381.11 122.2L1376.71 117.8Z" fill="none" stroke="#085e1d" stroke-width="1.8" stroke-linejoin="miter"/>
<path d="M1394.95 98.92L1399.35 103.32L1394.95 107.72L1390.55 103.32Z" fill="none" stroke="#085e1d" stroke-width="1.8" stroke-linejoin="miter"/>
<path d="M1408.78 121.98L1413.18 126.38L1408.78 130.78L1404.38 126.38Z" fill="none" stroke="#085e1d" stroke-width="1.8" stroke-linejoin="miter"/>
<path d="M1422.62 119.3L1427.02 123.7L1422.62 128.1L1418.22 123.7Z" fill="none" stroke="#085e1d" stroke-width="1.8" stroke-linejoin="miter"/>
<path d="M1436.45 127.34L1440.85 131.74L1436.45 136.14L1432.05 131.74Z" fill="none" stroke="#085e1d" stroke-width="1.8" stroke-linejoin="miter"/>
<path d="M1450.29 109.91L1454.69 114.31L1450.29 118.71L1445.89 114.31Z" fill="none" stroke="#085e1d" stroke-width="1.8" stroke-linejoin="miter"/>
<path d="M1464.12 125.73L1468.52 130.13L1464.12 134.53L1459.72 130.13Z" fill="none" stroke="#085e1d" stroke-width="1.8" stroke-linejoin="miter"/>
<path d="M1477.96 111.25L1482.36 115.65L1477.96 120.05L1473.56 115.65Z" fill="none" stroke="#085e1d" stroke-width="1.8" stroke-linejoin="miter"/>
<path d="M1491.79 115.81L1496.19 120.21L1491.79 124.61L1487.39 120.21Z" fill="none" stroke="#085e1d" stroke-width="1.8" stroke-linejoin="miter"/>
<path d="M1505.62 111.25L1510.02 115.65L1505.62 120.05L1501.22 115.65Z" fill="none" stroke="#085e1d" stroke-width="1.8" stroke-linejoin="miter"/>
<path d="M1519.46 123.85L1523.86 128.25L1519.46 132.65L1515.06 128.25Z" fill="none" stroke="#085e1d" stroke-width="1.8" stroke-linejoin="miter"/>
<path d="M1533.29 105.35L1537.69 109.75L1533.29 114.16L1528.89 109.75Z" fill="none" stroke="#085e1d" stroke-width="1.8" stroke-linejoin="miter"/>
<path d="M1547.13 124.93L1551.53 129.33L1547.13 133.73L1542.73 129.33Z" fill="none" stroke="#085e1d" stroke-width="1.8" stroke-linejoin="miter"/>
<path d="M1560.96 114.74L1565.36 119.14L1560.96 123.54L1556.56 119.14Z" fill="none" stroke="#085e1d" stroke-width="1.8" stroke-linejoin="miter"/>
<path d="M1574.8 145.84L1579.2 150.24L1574.8 154.64L1570.4 150.24Z" fill="none" stroke="#085e1d" stroke-width="1.8" stroke-linejoin="miter"/>
<path d="M1588.63 152L1593.03 156.4L1588.63 160.8L1584.23 156.4Z" fill="none" stroke="#085e1d" stroke-width="1.8" stroke-linejoin="miter"/>
<path d="M1602.47 232.69L1606.87 237.09L1602.47 241.49L1598.07 237.09Z" fill="none" stroke="#085e1d" stroke-width="1.8" stroke-linejoin="miter"/>
<rect x="1294.6" y="61.5" width="321.7" height="321.7" fill="none" stroke="#000" stroke-width="2.2"/>
<text transform="translate(1287.3 389.8) scale(1 1.06)" font-size="22" text-anchor="end">0</text>
<text transform="translate(1287.3 336.18) scale(1 1.06)" font-size="22" text-anchor="end">20</text>
<text transform="translate(1287.3 282.57) scale(1 1.06)" font-size="22" text-anchor="end">40</text>
<text transform="translate(1287.3 228.95) scale(1 1.06)" font-size="22" text-anchor="end">60</text>
<text transform="translate(1287.3 175.33) scale(1 1.06)" font-size="22" text-anchor="end">80</text>
<text transform="translate(1287.3 121.72) scale(1 1.06)" font-size="22" text-anchor="end">100</text>
<text transform="translate(1287.3 68.1) scale(1 1.06)" font-size="22" text-anchor="end">120</text>
<text transform="translate(1293.9 407.3) scale(1 1.075)" font-size="22" text-anchor="middle">10<tspan font-size="15" dy="-9.6">-5</tspan></text>
<text transform="translate(1339.86 407.3) scale(1 1.075)" font-size="22" text-anchor="middle">10<tspan font-size="15" dy="-9.6">-4</tspan></text>
<text transform="translate(1385.81 407.3) scale(1 1.075)" font-size="22" text-anchor="middle">10<tspan font-size="15" dy="-9.6">-3</tspan></text>
<text transform="translate(1431.77 407.3) scale(1 1.075)" font-size="22" text-anchor="middle">10<tspan font-size="15" dy="-9.6">-2</tspan></text>
<text transform="translate(1477.73 407.3) scale(1 1.075)" font-size="22" text-anchor="middle">10<tspan font-size="15" dy="-9.6">-1</tspan></text>
<text transform="translate(1523.69 407.3) scale(1 1.075)" font-size="22" text-anchor="middle">10<tspan font-size="15" dy="-9.6">0</tspan></text>
<text transform="translate(1569.64 407.3) scale(1 1.075)" font-size="22" text-anchor="middle">10<tspan font-size="15" dy="-9.6">1</tspan></text>
<text transform="translate(1615.6 407.3) scale(1 1.075)" font-size="22" text-anchor="middle">10<tspan font-size="15" dy="-9.6">2</tspan></text>
<text transform="translate(1456.45 441.9) scale(1 1.03)" font-size="40" text-anchor="middle">[<tspan font-weight="bold">1</tspan>] (μM)</text>
<path d="M1717.16 61.5V383.2M1763.11 61.5V383.2M1809.07 61.5V383.2M1855.03 61.5V383.2M1900.99 61.5V383.2M1946.94 61.5V383.2M1671.2 329.58H1992.9M1671.2 275.97H1992.9M1671.2 222.35H1992.9M1671.2 168.73H1992.9M1671.2 115.12H1992.9" stroke="#000" stroke-width="1.8" stroke-dasharray="2 1.6" stroke-dashoffset="1" fill="none"/>
<path d="M1717.16 383.2v-6M1717.16 61.5v6M1763.11 383.2v-6M1763.11 61.5v6M1809.07 383.2v-6M1809.07 61.5v6M1855.03 383.2v-6M1855.03 61.5v6M1900.99 383.2v-6M1900.99 61.5v6M1946.94 383.2v-6M1946.94 61.5v6M1671.2 329.58h6M1992.9 329.58h-6M1671.2 275.97h6M1992.9 275.97h-6M1671.2 222.35h6M1992.9 222.35h-6M1671.2 168.73h6M1992.9 168.73h-6M1671.2 115.12h6M1992.9 115.12h-6" stroke="#000" stroke-width="1.5" fill="none"/>
<path d="M1716.21 126.64V132.01M1713.41 126.64h5.6M1713.41 132.01h5.6M1730.04 132.01V137.37M1727.24 132.01h5.6M1727.24 137.37h5.6M1743.88 122.89V133.61M1741.08 122.89h5.6M1741.08 133.61h5.6M1757.71 106V127.45M1754.91 106h5.6M1754.91 127.45h5.6M1771.55 105.2V135.22M1768.75 105.2h5.6M1768.75 135.22h5.6M1785.38 109.22V117.26M1782.58 109.22h5.6M1782.58 117.26h5.6M1799.22 111.36V116.73M1796.42 111.36h5.6M1796.42 116.73h5.6M1813.05 85.09V115.12M1810.25 85.09h5.6M1810.25 115.12h5.6M1826.89 91.26V121.28M1824.09 91.26h5.6M1824.09 121.28h5.6M1840.72 107.07V112.44M1837.92 107.07h5.6M1837.92 112.44h5.6M1854.56 99.03V120.48M1851.76 99.03h5.6M1851.76 120.48h5.6M1868.39 101.44V114.85M1865.59 101.44h5.6M1865.59 114.85h5.6M1882.22 102.25V110.29M1879.42 102.25h5.6M1879.42 110.29h5.6M1896.06 118.6V126.64M1893.26 118.6h5.6M1893.26 126.64h5.6M1909.89 102.25V112.97M1907.09 102.25h5.6M1907.09 112.97h5.6M1923.73 104.39V115.12M1920.93 104.39h5.6M1920.93 115.12h5.6M1937.56 109.49V120.21M1934.76 109.49h5.6M1934.76 120.21h5.6M1951.4 108.68V116.73M1948.6 108.68h5.6M1948.6 116.73h5.6M1965.23 103.86V122.62M1962.43 103.86h5.6M1962.43 122.62h5.6M1979.07 110.02V123.43M1976.27 110.02h5.6M1976.27 123.43h5.6" stroke="#dd0000" stroke-width="1.7" fill="none"/>
<circle cx="1716.21" cy="129.33" r="4.15" fill="none" stroke="#dd0000" stroke-width="1.8"/>
<circle cx="1730.04" cy="134.69" r="4.15" fill="none" stroke="#dd0000" stroke-width="1.8"/>
<circle cx="1743.88" cy="128.25" r="4.15" fill="none" stroke="#dd0000" stroke-width="1.8"/>
<circle cx="1757.71" cy="116.73" r="4.15" fill="none" stroke="#dd0000" stroke-width="1.8"/>
<circle cx="1771.55" cy="120.21" r="4.15" fill="none" stroke="#dd0000" stroke-width="1.8"/>
<circle cx="1785.38" cy="113.24" r="4.15" fill="none" stroke="#dd0000" stroke-width="1.8"/>
<circle cx="1799.22" cy="114.04" r="4.15" fill="none" stroke="#dd0000" stroke-width="1.8"/>
<circle cx="1813.05" cy="100.1" r="4.15" fill="none" stroke="#dd0000" stroke-width="1.8"/>
<circle cx="1826.89" cy="106.27" r="4.15" fill="none" stroke="#dd0000" stroke-width="1.8"/>
<circle cx="1840.72" cy="109.75" r="4.15" fill="none" stroke="#dd0000" stroke-width="1.8"/>
<circle cx="1854.56" cy="109.75" r="4.15" fill="none" stroke="#dd0000" stroke-width="1.8"/>
<circle cx="1868.39" cy="108.15" r="4.15" fill="none" stroke="#dd0000" stroke-width="1.8"/>
<circle cx="1882.22" cy="106.27" r="4.15" fill="none" stroke="#dd0000" stroke-width="1.8"/>
<circle cx="1896.06" cy="122.62" r="4.15" fill="none" stroke="#dd0000" stroke-width="1.8"/>
<circle cx="1909.89" cy="107.61" r="4.15" fill="none" stroke="#dd0000" stroke-width="1.8"/>
<circle cx="1923.73" cy="109.75" r="4.15" fill="none" stroke="#dd0000" stroke-width="1.8"/>
<circle cx="1937.56" cy="114.85" r="4.15" fill="none" stroke="#dd0000" stroke-width="1.8"/>
<circle cx="1951.4" cy="112.7" r="4.15" fill="none" stroke="#dd0000" stroke-width="1.8"/>
<circle cx="1965.23" cy="113.24" r="4.15" fill="none" stroke="#dd0000" stroke-width="1.8"/>
<circle cx="1979.07" cy="116.73" r="4.15" fill="none" stroke="#dd0000" stroke-width="1.8"/>
<path d="M1716.21 97.96V104.39M1713.41 97.96h5.6M1713.41 104.39h5.6M1730.04 107.61V112.97M1727.24 107.61h5.6M1727.24 112.97h5.6M1743.88 95.01V103.05M1741.08 95.01h5.6M1741.08 103.05h5.6M1757.71 103.32V122.09M1754.91 103.32h5.6M1754.91 122.09h5.6M1771.55 96.35V107.07M1768.75 96.35h5.6M1768.75 107.07h5.6M1785.38 96.35V107.07M1782.58 96.35h5.6M1782.58 107.07h5.6M1799.22 89.38V100.1M1796.42 89.38h5.6M1796.42 100.1h5.6M1813.05 85.9V104.66M1810.25 85.9h5.6M1810.25 104.66h5.6M1826.89 101.98V123.43M1824.09 101.98h5.6M1824.09 123.43h5.6M1840.72 105.73V113.78M1837.92 105.73h5.6M1837.92 113.78h5.6M1854.56 95.28V111.36M1851.76 95.28h5.6M1851.76 111.36h5.6M1868.39 102.25V112.97M1865.59 102.25h5.6M1865.59 112.97h5.6M1882.22 100.37V111.1M1879.42 100.37h5.6M1879.42 111.1h5.6M1896.06 96.08V109.49M1893.26 96.08h5.6M1893.26 109.49h5.6M1909.89 110.56V115.92M1907.09 110.56h5.6M1907.09 115.92h5.6M1923.73 115.12V131.2M1920.93 115.12h5.6M1920.93 131.2h5.6M1937.56 108.68V119.41M1934.76 108.68h5.6M1934.76 119.41h5.6M1951.4 117.8V128.52M1948.6 117.8h5.6M1948.6 128.52h5.6M1965.23 115.38V136.83M1962.43 115.38h5.6M1962.43 136.83h5.6M1979.07 136.03V164.44M1976.27 136.03h5.6M1976.27 164.44h5.6" stroke="#0000dd" stroke-width="1.7" fill="none"/>
<rect x="1711.61" y="96.58" width="9.2" height="9.2" fill="none" stroke="#0000dd" stroke-width="1.8"/>
<rect x="1725.44" y="105.69" width="9.2" height="9.2" fill="none" stroke="#0000dd" stroke-width="1.8"/>
<rect x="1739.28" y="94.43" width="9.2" height="9.2" fill="none" stroke="#0000dd" stroke-width="1.8"/>
<rect x="1753.11" y="108.1" width="9.2" height="9.2" fill="none" stroke="#0000dd" stroke-width="1.8"/>
<rect x="1766.95" y="97.11" width="9.2" height="9.2" fill="none" stroke="#0000dd" stroke-width="1.8"/>
<rect x="1780.78" y="97.11" width="9.2" height="9.2" fill="none" stroke="#0000dd" stroke-width="1.8"/>
<rect x="1794.62" y="90.14" width="9.2" height="9.2" fill="none" stroke="#0000dd" stroke-width="1.8"/>
<rect x="1808.45" y="90.68" width="9.2" height="9.2" fill="none" stroke="#0000dd" stroke-width="1.8"/>
<rect x="1822.29" y="108.1" width="9.2" height="9.2" fill="none" stroke="#0000dd" stroke-width="1.8"/>
<rect x="1836.12" y="105.16" width="9.2" height="9.2" fill="none" stroke="#0000dd" stroke-width="1.8"/>
<rect x="1849.96" y="98.72" width="9.2" height="9.2" fill="none" stroke="#0000dd" stroke-width="1.8"/>
<rect x="1863.79" y="103.01" width="9.2" height="9.2" fill="none" stroke="#0000dd" stroke-width="1.8"/>
<rect x="1877.62" y="101.13" width="9.2" height="9.2" fill="none" stroke="#0000dd" stroke-width="1.8"/>
<rect x="1891.46" y="98.18" width="9.2" height="9.2" fill="none" stroke="#0000dd" stroke-width="1.8"/>
<rect x="1905.29" y="108.64" width="9.2" height="9.2" fill="none" stroke="#0000dd" stroke-width="1.8"/>
<rect x="1919.13" y="118.56" width="9.2" height="9.2" fill="none" stroke="#0000dd" stroke-width="1.8"/>
<rect x="1932.96" y="109.44" width="9.2" height="9.2" fill="none" stroke="#0000dd" stroke-width="1.8"/>
<rect x="1946.8" y="118.56" width="9.2" height="9.2" fill="none" stroke="#0000dd" stroke-width="1.8"/>
<rect x="1960.63" y="121.51" width="9.2" height="9.2" fill="none" stroke="#0000dd" stroke-width="1.8"/>
<rect x="1974.47" y="145.64" width="9.2" height="9.2" fill="none" stroke="#0000dd" stroke-width="1.8"/>
<path d="M1716.21 68.74V95.55M1713.41 68.74h5.6M1713.41 95.55h5.6M1730.04 84.82V113.78M1727.24 84.82h5.6M1727.24 113.78h5.6M1743.88 81.07V102.52M1741.08 81.07h5.6M1741.08 102.52h5.6M1757.71 88.31V99.03M1754.91 88.31h5.6M1754.91 99.03h5.6M1771.55 67.67V85.9M1768.75 67.67h5.6M1768.75 85.9h5.6M1785.38 83.75V103.59M1782.58 83.75h5.6M1782.58 103.59h5.6M1799.22 77.32V112.17M1796.42 77.32h5.6M1796.42 112.17h5.6M1813.05 94.74V110.83M1810.25 94.74h5.6M1810.25 110.83h5.6M1826.89 81.61V112.7M1824.09 81.61h5.6M1824.09 112.7h5.6M1840.72 79.73V116.73M1837.92 79.73h5.6M1837.92 116.73h5.6M1854.56 67.4V95.81M1851.76 67.4h5.6M1851.76 95.81h5.6M1868.39 77.05V103.32M1865.59 77.05h5.6M1865.59 103.32h5.6M1882.22 108.15V124.23M1879.42 108.15h5.6M1879.42 124.23h5.6M1896.06 108.15V124.23M1893.26 108.15h5.6M1893.26 124.23h5.6M1909.89 88.04V110.02M1907.09 88.04h5.6M1907.09 110.02h5.6M1923.73 99.84V110.56M1920.93 99.84h5.6M1920.93 110.56h5.6M1937.56 115.92V126.64M1934.76 115.92h5.6M1934.76 126.64h5.6M1951.4 123.43V151.84M1948.6 123.43h5.6M1948.6 151.84h5.6M1965.23 147.02V192.59M1962.43 147.02h5.6M1962.43 192.59h5.6M1979.07 209.21V214.58M1976.27 209.21h5.6M1976.27 214.58h5.6" stroke="#085e1d" stroke-width="1.7" fill="none"/>
<path d="M1716.21 77.74L1720.61 82.14L1716.21 86.54L1711.81 82.14Z" fill="none" stroke="#085e1d" stroke-width="1.8" stroke-linejoin="miter"/>
<path d="M1730.04 94.9L1734.44 99.3L1730.04 103.7L1725.64 99.3Z" fill="none" stroke="#085e1d" stroke-width="1.8" stroke-linejoin="miter"/>
<path d="M1743.88 87.39L1748.28 91.79L1743.88 96.19L1739.48 91.79Z" fill="none" stroke="#085e1d" stroke-width="1.8" stroke-linejoin="miter"/>
<path d="M1757.71 89.27L1762.11 93.67L1757.71 98.07L1753.31 93.67Z" fill="none" stroke="#085e1d" stroke-width="1.8" stroke-linejoin="miter"/>
<path d="M1771.55 72.38L1775.95 76.78L1771.55 81.18L1767.15 76.78Z" fill="none" stroke="#085e1d" stroke-width="1.8" stroke-linejoin="miter"/>
<path d="M1785.38 89.27L1789.78 93.67L1785.38 98.07L1780.98 93.67Z" fill="none" stroke="#085e1d" stroke-width="1.8" stroke-linejoin="miter"/>
<path d="M1799.22 90.34L1803.62 94.74L1799.22 99.14L1794.82 94.74Z" fill="none" stroke="#085e1d" stroke-width="1.8" stroke-linejoin="miter"/>
<path d="M1813.05 98.38L1817.45 102.78L1813.05 107.18L1808.65 102.78Z" fill="none" stroke="#085e1d" stroke-width="1.8" stroke-linejoin="miter"/>
<path d="M1826.89 92.76L1831.29 97.16L1826.89 101.56L1822.49 97.16Z" fill="none" stroke="#085e1d" stroke-width="1.8" stroke-linejoin="miter"/>
<path d="M1840.72 93.83L1845.12 98.23L1840.72 102.63L1836.32 98.23Z" fill="none" stroke="#085e1d" stroke-width="1.8" stroke-linejoin="miter"/>
<path d="M1854.56 77.21L1858.96 81.61L1854.56 86.01L1850.16 81.61Z" fill="none" stroke="#085e1d" stroke-width="1.8" stroke-linejoin="miter"/>
<path d="M1868.39 85.78L1872.79 90.18L1868.39 94.58L1863.99 90.18Z" fill="none" stroke="#085e1d" stroke-width="1.8" stroke-linejoin="miter"/>
<path d="M1882.22 111.79L1886.62 116.19L1882.22 120.59L1877.82 116.19Z" fill="none" stroke="#085e1d" stroke-width="1.8" stroke-linejoin="miter"/>
<path d="M1896.06 111.79L1900.46 116.19L1896.06 120.59L1891.66 116.19Z" fill="none" stroke="#085e1d" stroke-width="1.8" stroke-linejoin="miter"/>
<path d="M1909.89 94.63L1914.29 99.03L1909.89 103.43L1905.49 99.03Z" fill="none" stroke="#085e1d" stroke-width="1.8" stroke-linejoin="miter"/>
<path d="M1923.73 100.8L1928.13 105.2L1923.73 109.6L1919.33 105.2Z" fill="none" stroke="#085e1d" stroke-width="1.8" stroke-linejoin="miter"/>
<path d="M1937.56 116.88L1941.96 121.28L1937.56 125.68L1933.16 121.28Z" fill="none" stroke="#085e1d" stroke-width="1.8" stroke-linejoin="miter"/>
<path d="M1951.4 133.24L1955.8 137.64L1951.4 142.04L1947 137.64Z" fill="none" stroke="#085e1d" stroke-width="1.8" stroke-linejoin="miter"/>
<path d="M1965.23 165.41L1969.63 169.81L1965.23 174.21L1960.83 169.81Z" fill="none" stroke="#085e1d" stroke-width="1.8" stroke-linejoin="miter"/>
<path d="M1979.07 207.49L1983.47 211.89L1979.07 216.29L1974.67 211.89Z" fill="none" stroke="#085e1d" stroke-width="1.8" stroke-linejoin="miter"/>
<rect x="1671.2" y="61.5" width="321.7" height="321.7" fill="none" stroke="#000" stroke-width="2.2"/>
<text transform="translate(1663.9 389.8) scale(1 1.06)" font-size="22" text-anchor="end">0</text>
<text transform="translate(1663.9 336.18) scale(1 1.06)" font-size="22" text-anchor="end">20</text>
<text transform="translate(1663.9 282.57) scale(1 1.06)" font-size="22" text-anchor="end">40</text>
<text transform="translate(1663.9 228.95) scale(1 1.06)" font-size="22" text-anchor="end">60</text>
<text transform="translate(1663.9 175.33) scale(1 1.06)" font-size="22" text-anchor="end">80</text>
<text transform="translate(1663.9 121.72) scale(1 1.06)" font-size="22" text-anchor="end">100</text>
<text transform="translate(1663.9 68.1) scale(1 1.06)" font-size="22" text-anchor="end">120</text>
<text transform="translate(1670.5 407.3) scale(1 1.075)" font-size="22" text-anchor="middle">10<tspan font-size="15" dy="-9.6">-5</tspan></text>
<text transform="translate(1716.46 407.3) scale(1 1.075)" font-size="22" text-anchor="middle">10<tspan font-size="15" dy="-9.6">-4</tspan></text>
<text transform="translate(1762.41 407.3) scale(1 1.075)" font-size="22" text-anchor="middle">10<tspan font-size="15" dy="-9.6">-3</tspan></text>
<text transform="translate(1808.37 407.3) scale(1 1.075)" font-size="22" text-anchor="middle">10<tspan font-size="15" dy="-9.6">-2</tspan></text>
<text transform="translate(1854.33 407.3) scale(1 1.075)" font-size="22" text-anchor="middle">10<tspan font-size="15" dy="-9.6">-1</tspan></text>
<text transform="translate(1900.29 407.3) scale(1 1.075)" font-size="22" text-anchor="middle">10<tspan font-size="15" dy="-9.6">0</tspan></text>
<text transform="translate(1946.24 407.3) scale(1 1.075)" font-size="22" text-anchor="middle">10<tspan font-size="15" dy="-9.6">1</tspan></text>
<text transform="translate(1992.2 407.3) scale(1 1.075)" font-size="22" text-anchor="middle">10<tspan font-size="15" dy="-9.6">2</tspan></text>
<text transform="translate(1833.05 441.9) scale(1 1.03)" font-size="40" text-anchor="middle">[<tspan font-weight="bold">2</tspan>] (μM)</text>
<path d="M964.26 474.2V795.9M1010.21 474.2V795.9M1056.17 474.2V795.9M1102.13 474.2V795.9M1148.09 474.2V795.9M1194.04 474.2V795.9M918.3 742.28H1240M918.3 688.67H1240M918.3 635.05H1240M918.3 581.43H1240M918.3 527.82H1240" stroke="#000" stroke-width="1.8" stroke-dasharray="2 1.6" stroke-dashoffset="1" fill="none"/>
<path d="M964.26 795.9v-6M964.26 474.2v6M1010.21 795.9v-6M1010.21 474.2v6M1056.17 795.9v-6M1056.17 474.2v6M1102.13 795.9v-6M1102.13 474.2v6M1148.09 795.9v-6M1148.09 474.2v6M1194.04 795.9v-6M1194.04 474.2v6M918.3 742.28h6M1240 742.28h-6M918.3 688.67h6M1240 688.67h-6M918.3 635.05h6M1240 635.05h-6M918.3 581.43h6M1240 581.43h-6M918.3 527.82h6M1240 527.82h-6" stroke="#000" stroke-width="1.5" fill="none"/>
<path d="M963.31 541.22V569.64M960.51 541.22h5.6M960.51 569.64h5.6M977.14 534.25V555.7M974.34 534.25h5.6M974.34 555.7h5.6M990.98 525.14V535.86M988.18 525.14h5.6M988.18 535.86h5.6M1004.81 528.89V542.29M1002.01 528.89h5.6M1002.01 542.29h5.6M1018.65 523.26V540.42M1015.85 523.26h5.6M1015.85 540.42h5.6M1032.48 523.8V539.88M1029.68 523.8h5.6M1029.68 539.88h5.6M1046.32 516.02V532.11M1043.52 516.02h5.6M1043.52 532.11h5.6M1060.15 510.66V532.11M1057.35 510.66h5.6M1057.35 532.11h5.6M1073.99 508.25V524.33M1071.19 508.25h5.6M1071.19 524.33h5.6M1087.82 518.17V546.05M1085.02 518.17h5.6M1085.02 546.05h5.6M1101.66 516.02V524.06M1098.86 516.02h5.6M1098.86 524.06h5.6M1115.49 507.71V529.16M1112.69 507.71h5.6M1112.69 529.16h5.6M1129.32 511.2V521.92M1126.52 511.2h5.6M1126.52 521.92h5.6M1143.16 504.76V534.25M1140.36 504.76h5.6M1140.36 534.25h5.6M1156.99 503.42V516.83M1154.19 503.42h5.6M1154.19 516.83h5.6M1170.83 517.36V530.77M1168.03 517.36h5.6M1168.03 530.77h5.6M1184.66 501.01V509.05M1181.86 501.01h5.6M1181.86 509.05h5.6M1198.5 524.6V532.64M1195.7 524.6h5.6M1195.7 532.64h5.6M1212.33 530.77V546.85M1209.53 530.77h5.6M1209.53 546.85h5.6M1226.17 678.21V701.8M1223.37 678.21h5.6M1223.37 701.8h5.6" stroke="#dd0000" stroke-width="1.7" fill="none"/>
<circle cx="963.31" cy="555.43" r="4.15" fill="none" stroke="#dd0000" stroke-width="1.8"/>
<circle cx="977.14" cy="544.97" r="4.15" fill="none" stroke="#dd0000" stroke-width="1.8"/>
<circle cx="990.98" cy="530.5" r="4.15" fill="none" stroke="#dd0000" stroke-width="1.8"/>
<circle cx="1004.81" cy="535.59" r="4.15" fill="none" stroke="#dd0000" stroke-width="1.8"/>
<circle cx="1018.65" cy="531.84" r="4.15" fill="none" stroke="#dd0000" stroke-width="1.8"/>
<circle cx="1032.48" cy="531.84" r="4.15" fill="none" stroke="#dd0000" stroke-width="1.8"/>
<circle cx="1046.32" cy="524.06" r="4.15" fill="none" stroke="#dd0000" stroke-width="1.8"/>
<circle cx="1060.15" cy="521.38" r="4.15" fill="none" stroke="#dd0000" stroke-width="1.8"/>
<circle cx="1073.99" cy="516.29" r="4.15" fill="none" stroke="#dd0000" stroke-width="1.8"/>
<circle cx="1087.82" cy="532.11" r="4.15" fill="none" stroke="#dd0000" stroke-width="1.8"/>
<circle cx="1101.66" cy="520.04" r="4.15" fill="none" stroke="#dd0000" stroke-width="1.8"/>
<circle cx="1115.49" cy="518.43" r="4.15" fill="none" stroke="#dd0000" stroke-width="1.8"/>
<circle cx="1129.32" cy="516.56" r="4.15" fill="none" stroke="#dd0000" stroke-width="1.8"/>
<circle cx="1143.16" cy="519.51" r="4.15" fill="none" stroke="#dd0000" stroke-width="1.8"/>
<circle cx="1156.99" cy="510.12" r="4.15" fill="none" stroke="#dd0000" stroke-width="1.8"/>
<circle cx="1170.83" cy="524.06" r="4.15" fill="none" stroke="#dd0000" stroke-width="1.8"/>
<circle cx="1184.66" cy="505.03" r="4.15" fill="none" stroke="#dd0000" stroke-width="1.8"/>
<circle cx="1198.5" cy="528.62" r="4.15" fill="none" stroke="#dd0000" stroke-width="1.8"/>
<circle cx="1212.33" cy="538.81" r="4.15" fill="none" stroke="#dd0000" stroke-width="1.8"/>
<circle cx="1226.17" cy="690.01" r="4.15" fill="none" stroke="#dd0000" stroke-width="1.8"/>
<path d="M963.31 504.23V528.35M960.51 504.23h5.6M960.51 528.35h5.6M977.14 509.86V523.26M974.34 509.86h5.6M974.34 523.26h5.6M990.98 504.76V510.12M988.18 504.76h5.6M988.18 510.12h5.6M1004.81 512.27V517.63M1002.01 512.27h5.6M1002.01 517.63h5.6M1018.65 498.06V518.97M1015.85 498.06h5.6M1015.85 518.97h5.6M1032.48 503.96V520.04M1029.68 503.96h5.6M1029.68 520.04h5.6M1046.32 509.59V528.35M1043.52 509.59h5.6M1043.52 528.35h5.6M1060.15 517.36V525.4M1057.35 517.36h5.6M1057.35 525.4h5.6M1073.99 516.02V549.8M1071.19 516.02h5.6M1071.19 549.8h5.6M1087.82 510.93V527.01M1085.02 510.93h5.6M1085.02 527.01h5.6M1101.66 512.54V523.26M1098.86 512.54h5.6M1098.86 523.26h5.6M1115.49 525.94V531.3M1112.69 525.94h5.6M1112.69 531.3h5.6M1129.32 512.27V520.31M1126.52 512.27h5.6M1126.52 520.31h5.6M1143.16 524.87V540.95M1140.36 524.87h5.6M1140.36 540.95h5.6M1156.99 529.16V545.24M1154.19 529.16h5.6M1154.19 545.24h5.6M1170.83 543.37V569.64M1168.03 543.37h5.6M1168.03 569.64h5.6M1184.66 538.27V559.18M1181.86 538.27h5.6M1181.86 559.18h5.6M1198.5 603.42V640.95M1195.7 603.42h5.6M1195.7 640.95h5.6M1212.33 731.56V746.04M1209.53 731.56h5.6M1209.53 746.04h5.6M1226.17 793.22V795.9M1223.37 793.22h5.6M1223.37 795.9h5.6" stroke="#0000dd" stroke-width="1.7" fill="none"/>
<rect x="958.71" y="511.69" width="9.2" height="9.2" fill="none" stroke="#0000dd" stroke-width="1.8"/>
<rect x="972.54" y="511.96" width="9.2" height="9.2" fill="none" stroke="#0000dd" stroke-width="1.8"/>
<rect x="986.38" y="502.84" width="9.2" height="9.2" fill="none" stroke="#0000dd" stroke-width="1.8"/>
<rect x="1000.21" y="510.35" width="9.2" height="9.2" fill="none" stroke="#0000dd" stroke-width="1.8"/>
<rect x="1014.05" y="503.91" width="9.2" height="9.2" fill="none" stroke="#0000dd" stroke-width="1.8"/>
<rect x="1027.88" y="507.4" width="9.2" height="9.2" fill="none" stroke="#0000dd" stroke-width="1.8"/>
<rect x="1041.72" y="514.37" width="9.2" height="9.2" fill="none" stroke="#0000dd" stroke-width="1.8"/>
<rect x="1055.55" y="516.78" width="9.2" height="9.2" fill="none" stroke="#0000dd" stroke-width="1.8"/>
<rect x="1069.39" y="528.31" width="9.2" height="9.2" fill="none" stroke="#0000dd" stroke-width="1.8"/>
<rect x="1083.22" y="514.37" width="9.2" height="9.2" fill="none" stroke="#0000dd" stroke-width="1.8"/>
<rect x="1097.06" y="513.3" width="9.2" height="9.2" fill="none" stroke="#0000dd" stroke-width="1.8"/>
<rect x="1110.89" y="524.02" width="9.2" height="9.2" fill="none" stroke="#0000dd" stroke-width="1.8"/>
<rect x="1124.72" y="511.69" width="9.2" height="9.2" fill="none" stroke="#0000dd" stroke-width="1.8"/>
<rect x="1138.56" y="528.31" width="9.2" height="9.2" fill="none" stroke="#0000dd" stroke-width="1.8"/>
<rect x="1152.39" y="532.6" width="9.2" height="9.2" fill="none" stroke="#0000dd" stroke-width="1.8"/>
<rect x="1166.23" y="551.9" width="9.2" height="9.2" fill="none" stroke="#0000dd" stroke-width="1.8"/>
<rect x="1180.06" y="544.13" width="9.2" height="9.2" fill="none" stroke="#0000dd" stroke-width="1.8"/>
<rect x="1193.9" y="617.58" width="9.2" height="9.2" fill="none" stroke="#0000dd" stroke-width="1.8"/>
<rect x="1207.73" y="734.2" width="9.2" height="9.2" fill="none" stroke="#0000dd" stroke-width="1.8"/>
<rect x="1221.57" y="789.96" width="9.2" height="9.2" fill="none" stroke="#0000dd" stroke-width="1.8"/>
<path d="M963.31 510.12V528.89M960.51 510.12h5.6M960.51 528.89h5.6M977.14 494.57V502.62M974.34 494.57h5.6M974.34 502.62h5.6M990.98 479.03V495.11M988.18 479.03h5.6M988.18 495.11h5.6M1004.81 489.48V497.52M1002.01 489.48h5.6M1002.01 497.52h5.6M1018.65 475.81V491.89M1015.85 475.81h5.6M1015.85 491.89h5.6M1032.48 503.42V511.46M1029.68 503.42h5.6M1029.68 511.46h5.6M1046.32 498.86V512.27M1043.52 498.86h5.6M1043.52 512.27h5.6M1060.15 515.48V526.21M1057.35 515.48h5.6M1057.35 526.21h5.6M1073.99 483.58V502.35M1071.19 483.58h5.6M1071.19 502.35h5.6M1087.82 507.17V517.9M1085.02 507.17h5.6M1085.02 517.9h5.6M1101.66 488.94V505.03M1098.86 488.94h5.6M1098.86 505.03h5.6M1115.49 495.65V506.37M1112.69 495.65h5.6M1112.69 506.37h5.6M1129.32 499.67V505.03M1126.52 499.67h5.6M1126.52 505.03h5.6M1143.16 507.17V528.62M1140.36 507.17h5.6M1140.36 528.62h5.6M1156.99 514.41V530.5M1154.19 514.41h5.6M1154.19 530.5h5.6M1170.83 526.74V542.83M1168.03 526.74h5.6M1168.03 542.83h5.6M1184.66 557.84V576.61M1181.86 557.84h5.6M1181.86 576.61h5.6M1198.5 642.82V677.68M1195.7 642.82h5.6M1195.7 677.68h5.6M1212.33 756.76V762.12M1209.53 756.76h5.6M1209.53 762.12h5.6M1226.17 793.22V795.9M1223.37 793.22h5.6M1223.37 795.9h5.6" stroke="#085e1d" stroke-width="1.7" fill="none"/>
<path d="M963.31 515.11L967.71 519.51L963.31 523.91L958.91 519.51Z" fill="none" stroke="#085e1d" stroke-width="1.8" stroke-linejoin="miter"/>
<path d="M977.14 494.2L981.54 498.6L977.14 503L972.74 498.6Z" fill="none" stroke="#085e1d" stroke-width="1.8" stroke-linejoin="miter"/>
<path d="M990.98 482.67L995.38 487.07L990.98 491.47L986.58 487.07Z" fill="none" stroke="#085e1d" stroke-width="1.8" stroke-linejoin="miter"/>
<path d="M1004.81 489.1L1009.21 493.5L1004.81 497.9L1000.41 493.5Z" fill="none" stroke="#085e1d" stroke-width="1.8" stroke-linejoin="miter"/>
<path d="M1018.65 479.45L1023.05 483.85L1018.65 488.25L1014.25 483.85Z" fill="none" stroke="#085e1d" stroke-width="1.8" stroke-linejoin="miter"/>
<path d="M1032.48 503.04L1036.88 507.44L1032.48 511.84L1028.08 507.44Z" fill="none" stroke="#085e1d" stroke-width="1.8" stroke-linejoin="miter"/>
<path d="M1046.32 501.17L1050.72 505.57L1046.32 509.97L1041.92 505.57Z" fill="none" stroke="#085e1d" stroke-width="1.8" stroke-linejoin="miter"/>
<path d="M1060.15 516.45L1064.55 520.85L1060.15 525.25L1055.75 520.85Z" fill="none" stroke="#085e1d" stroke-width="1.8" stroke-linejoin="miter"/>
<path d="M1073.99 488.57L1078.39 492.97L1073.99 497.37L1069.59 492.97Z" fill="none" stroke="#085e1d" stroke-width="1.8" stroke-linejoin="miter"/>
<path d="M1087.82 508.14L1092.22 512.54L1087.82 516.94L1083.42 512.54Z" fill="none" stroke="#085e1d" stroke-width="1.8" stroke-linejoin="miter"/>
<path d="M1101.66 492.59L1106.06 496.99L1101.66 501.39L1097.26 496.99Z" fill="none" stroke="#085e1d" stroke-width="1.8" stroke-linejoin="miter"/>
<path d="M1115.49 496.61L1119.89 501.01L1115.49 505.41L1111.09 501.01Z" fill="none" stroke="#085e1d" stroke-width="1.8" stroke-linejoin="miter"/>
<path d="M1129.32 497.95L1133.72 502.35L1129.32 506.75L1124.92 502.35Z" fill="none" stroke="#085e1d" stroke-width="1.8" stroke-linejoin="miter"/>
<path d="M1143.16 513.5L1147.56 517.9L1143.16 522.3L1138.76 517.9Z" fill="none" stroke="#085e1d" stroke-width="1.8" stroke-linejoin="miter"/>
<path d="M1156.99 518.05L1161.39 522.45L1156.99 526.85L1152.59 522.45Z" fill="none" stroke="#085e1d" stroke-width="1.8" stroke-linejoin="miter"/>
<path d="M1170.83 530.39L1175.23 534.79L1170.83 539.19L1166.43 534.79Z" fill="none" stroke="#085e1d" stroke-width="1.8" stroke-linejoin="miter"/>
<path d="M1184.66 562.82L1189.06 567.22L1184.66 571.62L1180.26 567.22Z" fill="none" stroke="#085e1d" stroke-width="1.8" stroke-linejoin="miter"/>
<path d="M1198.5 655.85L1202.9 660.25L1198.5 664.65L1194.1 660.25Z" fill="none" stroke="#085e1d" stroke-width="1.8" stroke-linejoin="miter"/>
<path d="M1212.33 755.04L1216.73 759.44L1212.33 763.84L1207.93 759.44Z" fill="none" stroke="#085e1d" stroke-width="1.8" stroke-linejoin="miter"/>
<path d="M1226.17 790.16L1230.57 794.56L1226.17 798.96L1221.77 794.56Z" fill="none" stroke="#085e1d" stroke-width="1.8" stroke-linejoin="miter"/>
<rect x="918.3" y="474.2" width="321.7" height="321.7" fill="none" stroke="#000" stroke-width="2.2"/>
<text transform="translate(911 802.5) scale(1 1.06)" font-size="22" text-anchor="end">0</text>
<text transform="translate(911 748.88) scale(1 1.06)" font-size="22" text-anchor="end">20</text>
<text transform="translate(911 695.27) scale(1 1.06)" font-size="22" text-anchor="end">40</text>
<text transform="translate(911 641.65) scale(1 1.06)" font-size="22" text-anchor="end">60</text>
<text transform="translate(911 588.03) scale(1 1.06)" font-size="22" text-anchor="end">80</text>
<text transform="translate(911 534.42) scale(1 1.06)" font-size="22" text-anchor="end">100</text>
<text transform="translate(911 480.8) scale(1 1.06)" font-size="22" text-anchor="end">120</text>
<text transform="translate(917.6 820) scale(1 1.075)" font-size="22" text-anchor="middle">10<tspan font-size="15" dy="-9.6">-5</tspan></text>
<text transform="translate(963.56 820) scale(1 1.075)" font-size="22" text-anchor="middle">10<tspan font-size="15" dy="-9.6">-4</tspan></text>
<text transform="translate(1009.51 820) scale(1 1.075)" font-size="22" text-anchor="middle">10<tspan font-size="15" dy="-9.6">-3</tspan></text>
<text transform="translate(1055.47 820) scale(1 1.075)" font-size="22" text-anchor="middle">10<tspan font-size="15" dy="-9.6">-2</tspan></text>
<text transform="translate(1101.43 820) scale(1 1.075)" font-size="22" text-anchor="middle">10<tspan font-size="15" dy="-9.6">-1</tspan></text>
<text transform="translate(1147.39 820) scale(1 1.075)" font-size="22" text-anchor="middle">10<tspan font-size="15" dy="-9.6">0</tspan></text>
<text transform="translate(1193.34 820) scale(1 1.075)" font-size="22" text-anchor="middle">10<tspan font-size="15" dy="-9.6">1</tspan></text>
<text transform="translate(1239.3 820) scale(1 1.075)" font-size="22" text-anchor="middle">10<tspan font-size="15" dy="-9.6">2</tspan></text>
<text transform="translate(1080.15 854.6) scale(1 1.03)" font-size="40" text-anchor="middle">[<tspan font-weight="bold">3</tspan>] (μM)</text>
<text transform="translate(874.3 633.05) rotate(-90) scale(1 1.03)" font-size="23" text-anchor="middle">Viability (%)</text>
<path d="M1340.56 474.2V795.9M1386.51 474.2V795.9M1432.47 474.2V795.9M1478.43 474.2V795.9M1524.39 474.2V795.9M1570.34 474.2V795.9M1294.6 742.28H1616.3M1294.6 688.67H1616.3M1294.6 635.05H1616.3M1294.6 581.43H1616.3M1294.6 527.82H1616.3" stroke="#000" stroke-width="1.8" stroke-dasharray="2 1.6" stroke-dashoffset="1" fill="none"/>
<path d="M1340.56 795.9v-6M1340.56 474.2v6M1386.51 795.9v-6M1386.51 474.2v6M1432.47 795.9v-6M1432.47 474.2v6M1478.43 795.9v-6M1478.43 474.2v6M1524.39 795.9v-6M1524.39 474.2v6M1570.34 795.9v-6M1570.34 474.2v6M1294.6 742.28h6M1616.3 742.28h-6M1294.6 688.67h6M1616.3 688.67h-6M1294.6 635.05h6M1616.3 635.05h-6M1294.6 581.43h6M1616.3 581.43h-6M1294.6 527.82h6M1616.3 527.82h-6" stroke="#000" stroke-width="1.5" fill="none"/>
<path d="M1339.61 549.26V557.31M1336.81 549.26h5.6M1336.81 557.31h5.6M1353.44 553.82V583.85M1350.64 553.82h5.6M1350.64 583.85h5.6M1367.28 527.01V554.89M1364.48 527.01h5.6M1364.48 554.89h5.6M1381.11 533.45V556.5M1378.31 533.45h5.6M1378.31 556.5h5.6M1394.95 542.56V553.28M1392.15 542.56h5.6M1392.15 553.28h5.6M1408.78 526.74V562.13M1405.98 526.74h5.6M1405.98 562.13h5.6M1422.62 513.34V542.29M1419.82 513.34h5.6M1419.82 542.29h5.6M1436.45 520.58V572.05M1433.65 520.58h5.6M1433.65 572.05h5.6M1450.29 512V528.08M1447.49 512h5.6M1447.49 528.08h5.6M1464.12 527.28V557.84M1461.32 527.28h5.6M1461.32 557.84h5.6M1477.96 516.83V530.23M1475.16 516.83h5.6M1475.16 530.23h5.6M1491.79 521.11V534.52M1488.99 521.11h5.6M1488.99 534.52h5.6M1505.62 511.46V539.34M1502.82 511.46h5.6M1502.82 539.34h5.6M1519.46 527.82V535.86M1516.66 527.82h5.6M1516.66 535.86h5.6M1533.29 516.83V530.23M1530.49 516.83h5.6M1530.49 530.23h5.6M1547.13 524.33V537.74M1544.33 524.33h5.6M1544.33 537.74h5.6M1560.96 528.62V542.03M1558.16 528.62h5.6M1558.16 542.03h5.6M1574.8 553.82V572.59M1572 553.82h5.6M1572 572.59h5.6M1588.63 639.88V661.32M1585.83 639.88h5.6M1585.83 661.32h5.6M1602.47 759.17V767.22M1599.67 759.17h5.6M1599.67 767.22h5.6" stroke="#dd0000" stroke-width="1.7" fill="none"/>
<circle cx="1339.61" cy="553.28" r="4.15" fill="none" stroke="#dd0000" stroke-width="1.8"/>
<circle cx="1353.44" cy="568.83" r="4.15" fill="none" stroke="#dd0000" stroke-width="1.8"/>
<circle cx="1367.28" cy="540.95" r="4.15" fill="none" stroke="#dd0000" stroke-width="1.8"/>
<circle cx="1381.11" cy="544.97" r="4.15" fill="none" stroke="#dd0000" stroke-width="1.8"/>
<circle cx="1394.95" cy="547.92" r="4.15" fill="none" stroke="#dd0000" stroke-width="1.8"/>
<circle cx="1408.78" cy="544.44" r="4.15" fill="none" stroke="#dd0000" stroke-width="1.8"/>
<circle cx="1422.62" cy="527.82" r="4.15" fill="none" stroke="#dd0000" stroke-width="1.8"/>
<circle cx="1436.45" cy="546.31" r="4.15" fill="none" stroke="#dd0000" stroke-width="1.8"/>
<circle cx="1450.29" cy="520.04" r="4.15" fill="none" stroke="#dd0000" stroke-width="1.8"/>
<circle cx="1464.12" cy="542.56" r="4.15" fill="none" stroke="#dd0000" stroke-width="1.8"/>
<circle cx="1477.96" cy="523.53" r="4.15" fill="none" stroke="#dd0000" stroke-width="1.8"/>
<circle cx="1491.79" cy="527.82" r="4.15" fill="none" stroke="#dd0000" stroke-width="1.8"/>
<circle cx="1505.62" cy="525.4" r="4.15" fill="none" stroke="#dd0000" stroke-width="1.8"/>
<circle cx="1519.46" cy="531.84" r="4.15" fill="none" stroke="#dd0000" stroke-width="1.8"/>
<circle cx="1533.29" cy="523.53" r="4.15" fill="none" stroke="#dd0000" stroke-width="1.8"/>
<circle cx="1547.13" cy="531.03" r="4.15" fill="none" stroke="#dd0000" stroke-width="1.8"/>
<circle cx="1560.96" cy="535.32" r="4.15" fill="none" stroke="#dd0000" stroke-width="1.8"/>
<circle cx="1574.8" cy="563.2" r="4.15" fill="none" stroke="#dd0000" stroke-width="1.8"/>
<circle cx="1588.63" cy="650.6" r="4.15" fill="none" stroke="#dd0000" stroke-width="1.8"/>
<circle cx="1602.47" cy="763.19" r="4.15" fill="none" stroke="#dd0000" stroke-width="1.8"/>
<path d="M1339.61 499.94V521.92M1336.81 499.94h5.6M1336.81 521.92h5.6M1353.44 506.91V522.99M1350.64 506.91h5.6M1350.64 522.99h5.6M1367.28 504.23V517.63M1364.48 504.23h5.6M1364.48 517.63h5.6M1381.11 506.37V522.45M1378.31 506.37h5.6M1378.31 522.45h5.6M1394.95 512V528.08M1392.15 512h5.6M1392.15 528.08h5.6M1408.78 515.75V529.16M1405.98 515.75h5.6M1405.98 529.16h5.6M1422.62 503.96V512M1419.82 503.96h5.6M1419.82 512h5.6M1436.45 515.75V529.16M1433.65 515.75h5.6M1433.65 529.16h5.6M1450.29 516.83V540.95M1447.49 516.83h5.6M1447.49 540.95h5.6M1464.12 511.73V533.18M1461.32 511.73h5.6M1461.32 533.18h5.6M1477.96 510.12V520.85M1475.16 510.12h5.6M1475.16 520.85h5.6M1491.79 516.02V524.06M1488.99 516.02h5.6M1488.99 524.06h5.6M1505.62 508.78V522.19M1502.82 508.78h5.6M1502.82 522.19h5.6M1519.46 527.01V537.74M1516.66 527.01h5.6M1516.66 537.74h5.6M1533.29 523.26V547.39M1530.49 523.26h5.6M1530.49 547.39h5.6M1547.13 545.24V550.6M1544.33 545.24h5.6M1544.33 550.6h5.6M1560.96 544.71V565.08M1558.16 544.71h5.6M1558.16 565.08h5.6M1574.8 601.81V639.34M1572 601.81h5.6M1572 639.34h5.6M1588.63 603.15V650.87M1585.83 603.15h5.6M1585.83 650.87h5.6M1602.47 774.99V783.03M1599.67 774.99h5.6M1599.67 783.03h5.6" stroke="#0000dd" stroke-width="1.7" fill="none"/>
<rect x="1335.01" y="506.33" width="9.2" height="9.2" fill="none" stroke="#0000dd" stroke-width="1.8"/>
<rect x="1348.84" y="510.35" width="9.2" height="9.2" fill="none" stroke="#0000dd" stroke-width="1.8"/>
<rect x="1362.68" y="506.33" width="9.2" height="9.2" fill="none" stroke="#0000dd" stroke-width="1.8"/>
<rect x="1376.51" y="509.81" width="9.2" height="9.2" fill="none" stroke="#0000dd" stroke-width="1.8"/>
<rect x="1390.35" y="515.44" width="9.2" height="9.2" fill="none" stroke="#0000dd" stroke-width="1.8"/>
<rect x="1404.18" y="517.85" width="9.2" height="9.2" fill="none" stroke="#0000dd" stroke-width="1.8"/>
<rect x="1418.02" y="503.38" width="9.2" height="9.2" fill="none" stroke="#0000dd" stroke-width="1.8"/>
<rect x="1431.85" y="517.85" width="9.2" height="9.2" fill="none" stroke="#0000dd" stroke-width="1.8"/>
<rect x="1445.69" y="524.29" width="9.2" height="9.2" fill="none" stroke="#0000dd" stroke-width="1.8"/>
<rect x="1459.52" y="517.85" width="9.2" height="9.2" fill="none" stroke="#0000dd" stroke-width="1.8"/>
<rect x="1473.36" y="510.88" width="9.2" height="9.2" fill="none" stroke="#0000dd" stroke-width="1.8"/>
<rect x="1487.19" y="515.44" width="9.2" height="9.2" fill="none" stroke="#0000dd" stroke-width="1.8"/>
<rect x="1501.02" y="510.88" width="9.2" height="9.2" fill="none" stroke="#0000dd" stroke-width="1.8"/>
<rect x="1514.86" y="527.77" width="9.2" height="9.2" fill="none" stroke="#0000dd" stroke-width="1.8"/>
<rect x="1528.69" y="530.72" width="9.2" height="9.2" fill="none" stroke="#0000dd" stroke-width="1.8"/>
<rect x="1542.53" y="543.32" width="9.2" height="9.2" fill="none" stroke="#0000dd" stroke-width="1.8"/>
<rect x="1556.36" y="550.29" width="9.2" height="9.2" fill="none" stroke="#0000dd" stroke-width="1.8"/>
<rect x="1570.2" y="615.97" width="9.2" height="9.2" fill="none" stroke="#0000dd" stroke-width="1.8"/>
<rect x="1584.03" y="622.41" width="9.2" height="9.2" fill="none" stroke="#0000dd" stroke-width="1.8"/>
<rect x="1597.87" y="774.41" width="9.2" height="9.2" fill="none" stroke="#0000dd" stroke-width="1.8"/>
<path d="M1339.61 499.13V512.54M1336.81 499.13h5.6M1336.81 512.54h5.6M1353.44 477.69V502.35M1350.64 477.69h5.6M1350.64 502.35h5.6M1367.28 484.12V500.74M1364.48 484.12h5.6M1364.48 500.74h5.6M1381.11 466.96V487.34M1378.31 466.96h5.6M1378.31 487.34h5.6M1394.95 491.63V510.39M1392.15 491.63h5.6M1392.15 510.39h5.6M1408.78 479.29V528.62M1405.98 479.29h5.6M1405.98 528.62h5.6M1422.62 502.88V516.29M1419.82 502.88h5.6M1419.82 516.29h5.6M1436.45 509.32V530.77M1433.65 509.32h5.6M1433.65 530.77h5.6M1450.29 491.36V499.4M1447.49 491.36h5.6M1447.49 499.4h5.6M1464.12 502.88V520.04M1461.32 502.88h5.6M1461.32 520.04h5.6M1477.96 505.83V521.92M1475.16 505.83h5.6M1475.16 521.92h5.6M1491.79 493.77V518.43M1488.99 493.77h5.6M1488.99 518.43h5.6M1505.62 486.8V525.4M1502.82 486.8h5.6M1502.82 525.4h5.6M1519.46 518.43V526.48M1516.66 518.43h5.6M1516.66 526.48h5.6M1533.29 521.65V535.05M1530.49 521.65h5.6M1530.49 535.05h5.6M1547.13 564.54V569.91M1544.33 564.54h5.6M1544.33 569.91h5.6M1560.96 617.09V625.13M1558.16 617.09h5.6M1558.16 625.13h5.6M1574.8 707.43V731.56M1572 707.43h5.6M1572 731.56h5.6M1588.63 793.22V795.9M1585.83 793.22h5.6M1585.83 795.9h5.6M1602.47 793.22V795.9M1599.67 793.22h5.6M1599.67 795.9h5.6" stroke="#085e1d" stroke-width="1.7" fill="none"/>
<path d="M1339.61 501.43L1344.01 505.83L1339.61 510.23L1335.21 505.83Z" fill="none" stroke="#085e1d" stroke-width="1.8" stroke-linejoin="miter"/>
<path d="M1353.44 485.62L1357.84 490.02L1353.44 494.42L1349.04 490.02Z" fill="none" stroke="#085e1d" stroke-width="1.8" stroke-linejoin="miter"/>
<path d="M1367.28 488.03L1371.68 492.43L1367.28 496.83L1362.88 492.43Z" fill="none" stroke="#085e1d" stroke-width="1.8" stroke-linejoin="miter"/>
<path d="M1381.11 472.75L1385.51 477.15L1381.11 481.55L1376.71 477.15Z" fill="none" stroke="#085e1d" stroke-width="1.8" stroke-linejoin="miter"/>
<path d="M1394.95 496.61L1399.35 501.01L1394.95 505.41L1390.55 501.01Z" fill="none" stroke="#085e1d" stroke-width="1.8" stroke-linejoin="miter"/>
<path d="M1408.78 499.56L1413.18 503.96L1408.78 508.36L1404.38 503.96Z" fill="none" stroke="#085e1d" stroke-width="1.8" stroke-linejoin="miter"/>
<path d="M1422.62 505.19L1427.02 509.59L1422.62 513.99L1418.22 509.59Z" fill="none" stroke="#085e1d" stroke-width="1.8" stroke-linejoin="miter"/>
<path d="M1436.45 515.64L1440.85 520.04L1436.45 524.44L1432.05 520.04Z" fill="none" stroke="#085e1d" stroke-width="1.8" stroke-linejoin="miter"/>
<path d="M1450.29 490.98L1454.69 495.38L1450.29 499.78L1445.89 495.38Z" fill="none" stroke="#085e1d" stroke-width="1.8" stroke-linejoin="miter"/>
<path d="M1464.12 507.06L1468.52 511.46L1464.12 515.86L1459.72 511.46Z" fill="none" stroke="#085e1d" stroke-width="1.8" stroke-linejoin="miter"/>
<path d="M1477.96 509.48L1482.36 513.88L1477.96 518.28L1473.56 513.88Z" fill="none" stroke="#085e1d" stroke-width="1.8" stroke-linejoin="miter"/>
<path d="M1491.79 501.7L1496.19 506.1L1491.79 510.5L1487.39 506.1Z" fill="none" stroke="#085e1d" stroke-width="1.8" stroke-linejoin="miter"/>
<path d="M1505.62 501.7L1510.02 506.1L1505.62 510.5L1501.22 506.1Z" fill="none" stroke="#085e1d" stroke-width="1.8" stroke-linejoin="miter"/>
<path d="M1519.46 518.05L1523.86 522.45L1519.46 526.85L1515.06 522.45Z" fill="none" stroke="#085e1d" stroke-width="1.8" stroke-linejoin="miter"/>
<path d="M1533.29 523.95L1537.69 528.35L1533.29 532.75L1528.89 528.35Z" fill="none" stroke="#085e1d" stroke-width="1.8" stroke-linejoin="miter"/>
<path d="M1547.13 562.82L1551.53 567.22L1547.13 571.62L1542.73 567.22Z" fill="none" stroke="#085e1d" stroke-width="1.8" stroke-linejoin="miter"/>
<path d="M1560.96 616.71L1565.36 621.11L1560.96 625.51L1556.56 621.11Z" fill="none" stroke="#085e1d" stroke-width="1.8" stroke-linejoin="miter"/>
<path d="M1574.8 715.1L1579.2 719.5L1574.8 723.9L1570.4 719.5Z" fill="none" stroke="#085e1d" stroke-width="1.8" stroke-linejoin="miter"/>
<path d="M1588.63 790.16L1593.03 794.56L1588.63 798.96L1584.23 794.56Z" fill="none" stroke="#085e1d" stroke-width="1.8" stroke-linejoin="miter"/>
<path d="M1602.47 790.16L1606.87 794.56L1602.47 798.96L1598.07 794.56Z" fill="none" stroke="#085e1d" stroke-width="1.8" stroke-linejoin="miter"/>
<rect x="1294.6" y="474.2" width="321.7" height="321.7" fill="none" stroke="#000" stroke-width="2.2"/>
<text transform="translate(1287.3 802.5) scale(1 1.06)" font-size="22" text-anchor="end">0</text>
<text transform="translate(1287.3 748.88) scale(1 1.06)" font-size="22" text-anchor="end">20</text>
<text transform="translate(1287.3 695.27) scale(1 1.06)" font-size="22" text-anchor="end">40</text>
<text transform="translate(1287.3 641.65) scale(1 1.06)" font-size="22" text-anchor="end">60</text>
<text transform="translate(1287.3 588.03) scale(1 1.06)" font-size="22" text-anchor="end">80</text>
<text transform="translate(1287.3 534.42) scale(1 1.06)" font-size="22" text-anchor="end">100</text>
<text transform="translate(1287.3 480.8) scale(1 1.06)" font-size="22" text-anchor="end">120</text>
<text transform="translate(1293.9 820) scale(1 1.075)" font-size="22" text-anchor="middle">10<tspan font-size="15" dy="-9.6">-5</tspan></text>
<text transform="translate(1339.86 820) scale(1 1.075)" font-size="22" text-anchor="middle">10<tspan font-size="15" dy="-9.6">-4</tspan></text>
<text transform="translate(1385.81 820) scale(1 1.075)" font-size="22" text-anchor="middle">10<tspan font-size="15" dy="-9.6">-3</tspan></text>
<text transform="translate(1431.77 820) scale(1 1.075)" font-size="22" text-anchor="middle">10<tspan font-size="15" dy="-9.6">-2</tspan></text>
<text transform="translate(1477.73 820) scale(1 1.075)" font-size="22" text-anchor="middle">10<tspan font-size="15" dy="-9.6">-1</tspan></text>
<text transform="translate(1523.69 820) scale(1 1.075)" font-size="22" text-anchor="middle">10<tspan font-size="15" dy="-9.6">0</tspan></text>
<text transform="translate(1569.64 820) scale(1 1.075)" font-size="22" text-anchor="middle">10<tspan font-size="15" dy="-9.6">1</tspan></text>
<text transform="translate(1615.6 820) scale(1 1.075)" font-size="22" text-anchor="middle">10<tspan font-size="15" dy="-9.6">2</tspan></text>
<text transform="translate(1456.45 854.6) scale(1 1.03)" font-size="40" text-anchor="middle">[<tspan font-weight="bold">4</tspan>] (μM)</text>
<text transform="translate(861 34.3) scale(1 1.06)" font-size="44" font-weight="bold">b</text>
</svg>
</body></html>
